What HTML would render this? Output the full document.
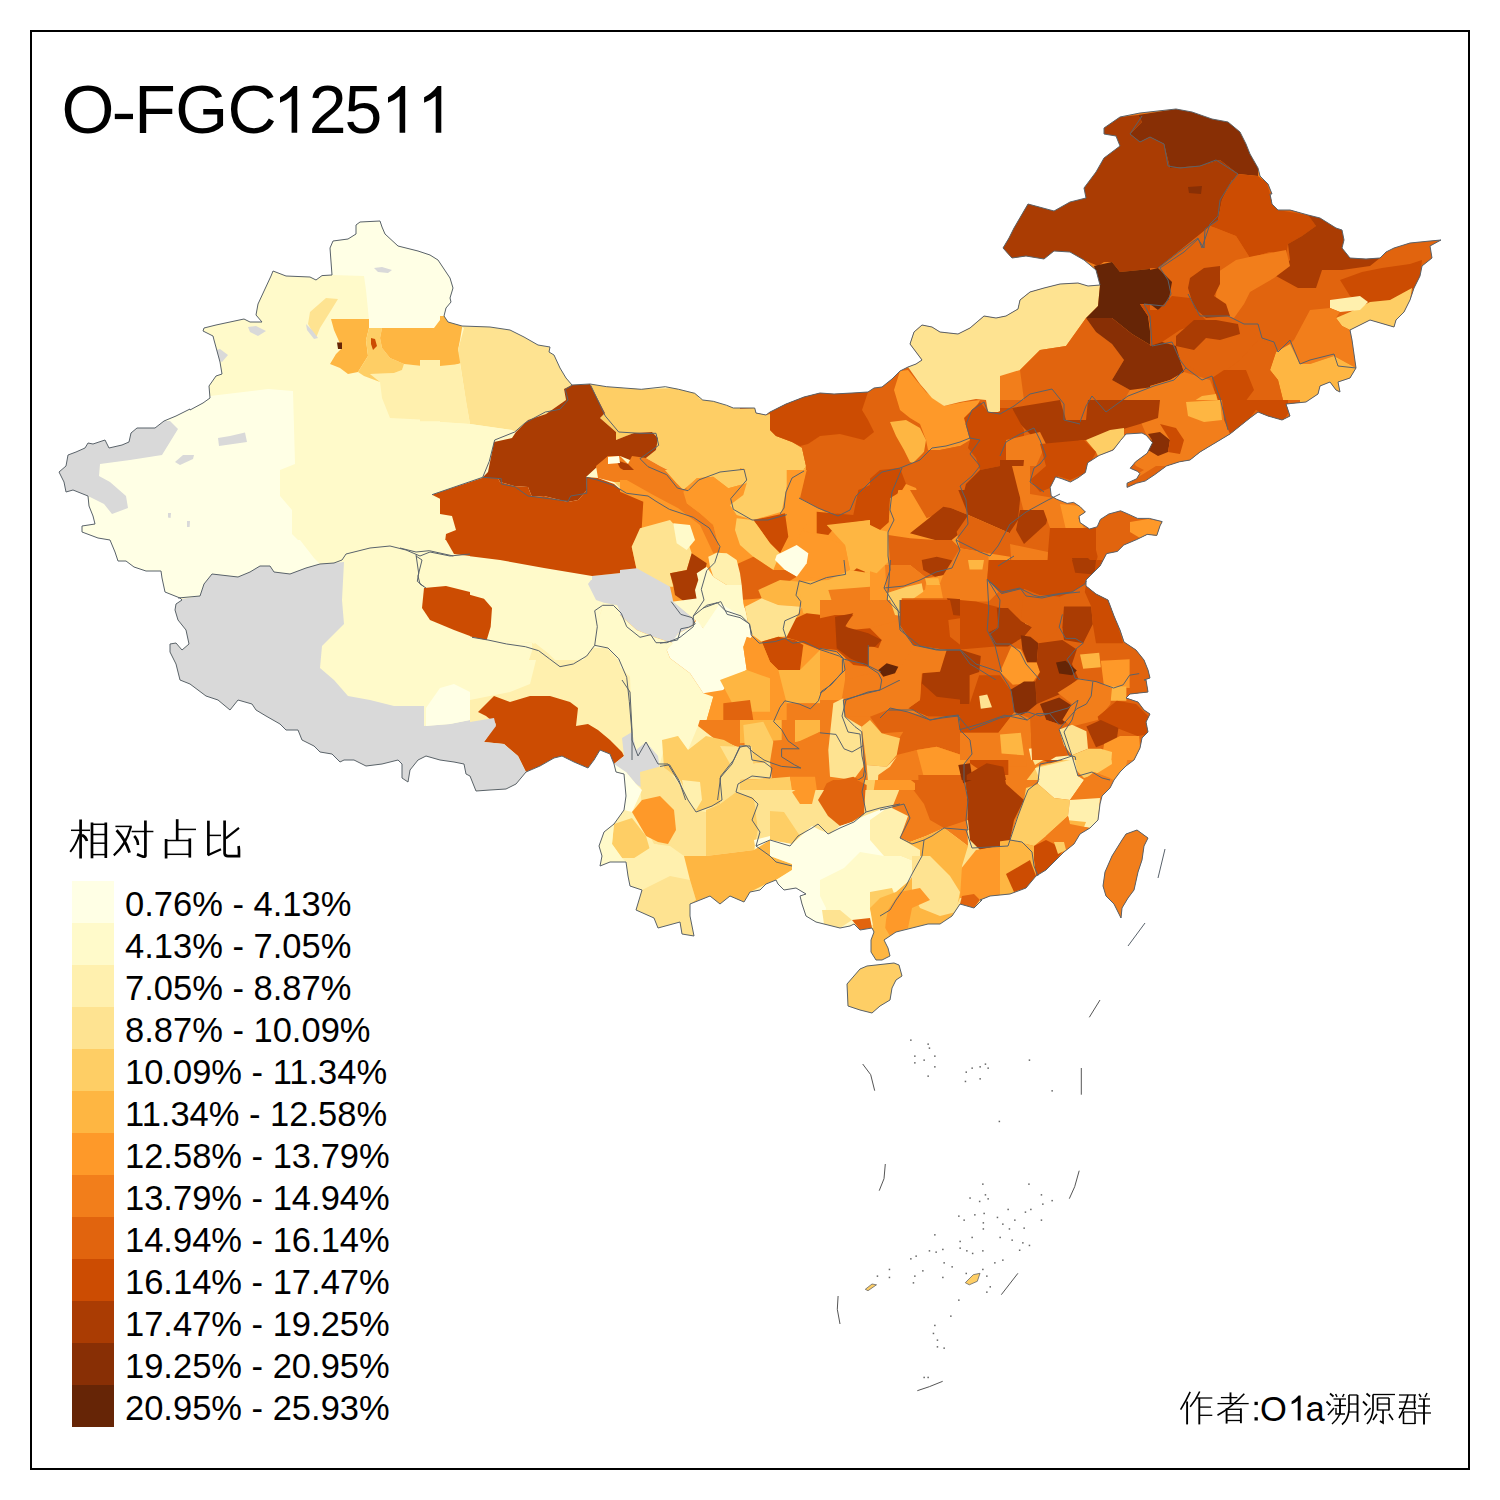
<!DOCTYPE html><html><head><meta charset="utf-8"><style>html,body{margin:0;padding:0;background:#fff;}</style></head><body>
<svg width="1500" height="1500" viewBox="0 0 1500 1500" style="display:block">
<defs><clipPath id="kT0"><rect x="190" y="200" width="300.0" height="300.0"/></clipPath>
<clipPath id="kT1"><rect x="50" y="380" width="300.0" height="300.0"/></clipPath>
<clipPath id="kT2"><rect x="420" y="360" width="400.0" height="400.0"/></clipPath>
<clipPath id="kT3"><rect x="440" y="280" width="300.0" height="300.0"/></clipPath>
<clipPath id="kT4"><rect x="740" y="200" width="300.0" height="300.0"/></clipPath>
<clipPath id="kT5"><rect x="1000" y="100" width="300.0" height="300.0"/></clipPath>
<clipPath id="kT6"><rect x="1150" y="180" width="300.0" height="300.0"/></clipPath>
<clipPath id="kT7"><rect x="1000" y="400" width="300.0" height="300.0"/></clipPath>
<clipPath id="kT8"><rect x="950" y="680" width="300.0" height="300.0"/></clipPath>
<clipPath id="kT9"><rect x="700" y="780" width="300.0" height="300.0"/></clipPath>
<clipPath id="kT10"><rect x="470" y="660" width="300.0" height="300.0"/></clipPath>
<clipPath id="kT11"><rect x="170" y="540" width="300.0" height="300.0"/></clipPath>
<clipPath id="kT12"><rect x="760" y="490" width="250.0" height="250.0"/></clipPath>
<clipPath id="kT13"><rect x="740" y="700" width="250.0" height="90.0"/></clipPath>
<clipPath id="kT14"><rect x="620" y="470" width="250.0" height="250.0"/></clipPath>
<clipPath id="kT15"><rect x="820" y="600" width="250.0" height="180.0"/></clipPath>
<clipPath id="lT15"><rect x="820" y="600" width="140.0" height="180.0"/></clipPath>
<clipPath id="kT16"><rect x="960" y="560" width="240.0" height="200.0"/></clipPath>
<clipPath id="kL1"><rect x="400" y="360" width="400.0" height="400.0"/></clipPath>
<clipPath id="kL2"><rect x="780" y="380" width="300.0" height="300.0"/></clipPath>
<clipPath id="kL3"><rect x="1080" y="220" width="300.0" height="300.0"/></clipPath>
<clipPath id="kL4"><rect x="600" y="680" width="300.0" height="300.0"/></clipPath>
<clipPath id="kL5"><rect x="880" y="700" width="300.0" height="300.0"/></clipPath>
<clipPath id="kL6"><rect x="660" y="560" width="240.0" height="240.0"/></clipPath>
<clipPath id="kL7"><rect x="1000" y="100" width="300.0" height="300.0"/></clipPath><clipPath id="china"><path d="M190.0,410.0 L203.0,403.0 L210.0,398.0 L209.0,386.0 L216.0,376.0 L222.0,374.0 L220.0,362.0 L214.0,340.0 L213.0,336.0 L203.0,331.0 L204.0,328.0 L216.0,325.0 L244.0,319.0 L250.0,322.0 L262.0,322.0 L256.0,315.0 L258.0,304.0 L271.0,276.0 L273.0,271.0 L286.0,276.0 L310.0,277.0 L316.0,280.0 L322.0,275.6 L332.0,275.0 L330.0,248.0 L333.0,241.0 L348.0,239.0 L356.0,234.0 L356.0,225.0 L360.0,222.0 L380.0,221.0 L382.0,227.0 L385.0,234.0 L398.0,246.0 L418.0,251.0 L430.0,255.0 L438.0,260.0 L450.0,278.0 L453.0,288.0 L450.0,298.0 L451.0,302.0 L446.0,308.0 L444.0,316.0 L448.0,322.0 L462.0,326.0 L490.0,327.0 L510.0,330.0 L524.0,337.0 L538.0,345.0 L550.0,347.0 L549.0,352.0 L554.0,355.0 L560.0,368.0 L566.0,378.0 L572.0,385.0 L590.0,384.0 L606.7,386.7 L641.3,389.3 L665.3,386.7 L678.7,389.3 L694.7,393.3 L702.7,400.0 L713.3,401.3 L726.7,405.3 L733.3,408.0 L754.7,408.0 L756.0,413.0 L766.0,415.0 L770.0,412.0 L786.0,404.0 L804.0,397.0 L820.0,393.0 L834.0,394.0 L852.0,393.0 L868.0,392.0 L874.0,388.0 L882.0,387.0 L892.0,379.0 L900.0,371.0 L908.0,367.0 L916.0,364.0 L922.0,360.0 L916.0,352.0 L910.0,344.0 L914.0,332.0 L922.0,325.0 L932.0,327.0 L940.0,332.0 L958.0,334.0 L970.0,328.0 L984.0,316.0 L996.0,318.0 L1006.0,316.0 L1018.0,309.0 L1020.0,300.0 L1030.0,292.0 L1044.0,288.0 L1060.0,284.0 L1078.0,283.0 L1088.0,286.0 L1100.0,285.0 L1096.0,270.0 L1084.0,260.0 L1070.0,252.0 L1054.0,251.0 L1044.0,259.0 L1026.0,256.0 L1012.0,258.0 L1003.0,248.0 L1009.0,238.0 L1014.0,228.0 L1028.0,204.0 L1054.0,211.0 L1070.0,202.0 L1086.0,198.0 L1084.0,188.0 L1096.0,172.0 L1104.0,158.0 L1120.0,146.0 L1116.0,136.0 L1104.0,134.0 L1104.0,128.0 L1120.0,117.0 L1140.0,113.0 L1176.0,109.0 L1192.0,112.0 L1212.0,119.0 L1228.0,122.0 L1240.0,132.0 L1246.0,144.0 L1250.0,154.0 L1258.0,168.0 L1260.0,176.0 L1268.0,184.0 L1272.0,194.0 L1270.0,194.0 L1272.0,204.0 L1278.0,210.0 L1290.0,210.0 L1308.0,215.0 L1320.0,218.0 L1336.0,228.0 L1342.0,230.0 L1344.0,240.0 L1342.0,248.0 L1350.0,258.0 L1366.0,259.0 L1380.0,258.0 L1386.0,252.0 L1394.0,248.0 L1410.0,243.0 L1430.0,241.0 L1441.0,240.0 L1430.0,246.0 L1432.0,258.0 L1422.0,266.0 L1420.0,276.0 L1414.0,288.0 L1410.0,300.0 L1404.0,312.0 L1396.0,320.0 L1394.0,327.0 L1370.0,320.0 L1358.0,326.0 L1350.0,330.0 L1352.0,340.0 L1354.0,354.0 L1356.0,368.0 L1350.0,378.0 L1338.0,382.0 L1340.0,392.0 L1336.0,390.0 L1330.0,382.0 L1320.0,386.0 L1318.0,394.0 L1306.0,402.0 L1286.0,404.0 L1290.0,416.0 L1282.0,420.0 L1268.0,416.0 L1258.0,412.0 L1250.0,418.0 L1230.0,434.0 L1220.0,440.0 L1200.0,452.0 L1190.0,460.0 L1179.4,461.8 L1166.4,466.0 L1154.8,474.6 L1145.2,481.0 L1136.6,483.2 L1127.0,487.4 L1127.0,483.2 L1136.6,478.8 L1139.8,473.6 L1137.6,471.4 L1130.2,468.2 L1135.6,461.8 L1147.2,453.2 L1152.6,442.6 L1146.2,435.2 L1142.0,433.0 L1126.0,434.0 L1120.6,440.4 L1113.2,450.0 L1099.2,455.4 L1087.6,462.8 L1085.4,472.4 L1078.0,477.8 L1070.4,482.0 L1062.0,478.8 L1055.6,476.8 L1050.2,487.4 L1051.2,496.0 L1056.6,499.2 L1067.2,503.4 L1073.6,502.4 L1080.0,506.6 L1085.4,512.0 L1079.0,516.2 L1080.0,522.6 L1089.6,529.0 L1097.2,526.8 L1100.4,519.4 L1108.8,514.0 L1120.6,510.8 L1128.0,514.0 L1137.6,518.4 L1149.4,518.4 L1162.2,521.6 L1160.0,525.8 L1156.8,535.4 L1147.2,534.4 L1136.6,539.6 L1123.8,545.0 L1117.4,551.4 L1106.6,553.6 L1100.0,566.0 L1092.0,574.0 L1086.0,580.0 L1086.0,586.0 L1096.0,594.0 L1108.0,600.0 L1114.0,616.0 L1120.0,630.0 L1124.0,642.0 L1136.0,650.0 L1144.0,660.0 L1148.0,670.0 L1150.0,678.0 L1144.0,680.0 L1146.0,680.0 L1148.0,692.0 L1130.0,694.0 L1126.0,698.0 L1138.0,702.0 L1144.0,710.0 L1150.0,714.0 L1146.0,722.0 L1148.0,732.0 L1142.0,738.0 L1140.0,748.0 L1134.0,760.0 L1126.0,766.0 L1120.0,772.0 L1114.0,780.0 L1110.0,788.0 L1102.0,796.0 L1100.0,804.0 L1098.0,820.0 L1090.0,828.0 L1080.0,834.0 L1074.0,844.0 L1064.0,852.0 L1056.0,860.0 L1046.0,870.0 L1036.0,876.0 L1026.0,888.0 L1010.0,894.0 L990.0,896.0 L980.0,900.0 L982.0,900.0 L974.0,908.0 L960.0,904.0 L952.0,916.0 L940.0,924.0 L928.0,924.0 L920.0,926.0 L912.0,928.0 L896.0,932.0 L890.0,936.0 L884.0,940.0 L888.0,948.0 L890.0,956.0 L882.0,960.0 L876.0,960.0 L871.0,952.0 L871.0,940.0 L874.0,932.0 L872.0,928.0 L860.0,930.0 L854.0,924.0 L850.0,926.0 L840.0,928.0 L824.0,924.0 L816.0,922.0 L806.0,916.0 L802.0,904.0 L800.0,896.0 L806.0,894.0 L796.0,888.0 L784.0,890.0 L778.0,884.0 L776.0,880.0 L766.0,884.0 L760.0,890.0 L750.0,892.0 L744.0,902.0 L730.0,896.0 L720.0,904.0 L710.0,896.0 L690.0,904.0 L690.0,916.0 L694.0,936.0 L682.0,934.0 L680.0,922.0 L658.0,928.0 L654.0,918.0 L636.0,910.0 L642.0,890.0 L630.0,886.0 L628.0,876.0 L626.0,862.0 L610.0,862.0 L600.0,866.0 L602.0,856.0 L599.0,846.0 L604.0,832.0 L614.0,824.0 L624.0,810.0 L626.0,796.0 L624.0,774.0 L616.0,772.0 L614.0,764.0 L610.0,754.0 L600.0,750.0 L594.0,760.0 L588.0,768.0 L574.0,762.0 L562.0,756.0 L554.0,758.0 L540.0,766.0 L526.0,772.0 L516.0,784.0 L506.0,789.0 L490.0,790.0 L476.0,791.0 L470.0,776.0 L466.0,774.0 L464.0,764.0 L454.0,762.0 L440.0,760.0 L426.0,756.0 L418.0,760.0 L410.0,770.0 L408.0,782.0 L402.0,778.0 L402.0,764.0 L398.0,760.0 L382.0,764.0 L366.0,766.0 L354.0,760.0 L344.0,760.0 L340.0,762.0 L332.0,754.0 L320.0,752.0 L314.0,746.0 L302.0,740.0 L298.0,730.0 L286.0,730.0 L280.0,724.0 L266.0,716.0 L256.0,710.0 L252.0,704.0 L238.0,700.0 L230.0,710.0 L218.0,700.0 L206.0,696.0 L190.0,684.0 L180.0,680.0 L176.0,664.0 L170.0,652.0 L170.0,644.0 L176.0,643.0 L182.0,650.0 L189.0,644.0 L186.0,630.0 L178.0,620.0 L175.0,610.0 L176.0,604.0 L182.0,600.0 L180.0,598.0 L165.0,592.0 L162.0,578.0 L161.0,571.0 L146.0,571.0 L134.0,567.0 L126.0,561.0 L118.0,561.0 L115.0,552.0 L110.0,540.0 L98.0,538.0 L82.0,532.0 L82.0,526.0 L95.0,524.0 L93.0,516.0 L89.0,506.0 L88.0,496.0 L73.0,490.0 L66.0,492.0 L64.0,482.0 L59.0,472.0 L66.0,466.0 L68.0,455.0 L76.0,452.0 L85.0,448.0 L88.0,443.0 L93.0,444.0 L105.0,440.0 L109.0,448.0 L122.0,445.0 L129.0,442.0 L131.0,433.0 L137.0,428.0 L155.0,428.0 L164.0,421.0 L176.0,416.0 L190.0,409.0Z M1137.0,830.0 L1148.0,838.0 L1144.0,846.0 L1142.0,860.0 L1138.0,872.0 L1134.0,890.0 L1128.0,898.0 L1122.0,908.0 L1121.0,918.0 L1118.0,912.0 L1114.0,904.0 L1106.0,896.0 L1103.0,886.0 L1105.0,872.0 L1112.0,856.0 L1122.0,840.0 L1126.0,834.0Z M867.0,966.0 L894.0,963.0 L899.0,965.0 L902.0,976.0 L896.0,980.0 L892.0,988.0 L890.0,1000.0 L880.0,1006.0 L872.0,1013.0 L860.0,1010.0 L848.0,1006.0 L847.0,984.0 L860.0,969.0Z"/></clipPath></defs>
<g clip-path="url(#china)"><path fill="#fffaca" d="M190.0,410.0 L203.0,403.0 L210.0,398.0 L209.0,386.0 L216.0,376.0 L222.0,374.0 L220.0,362.0 L214.0,340.0 L213.0,336.0 L203.0,331.0 L204.0,328.0 L216.0,325.0 L244.0,319.0 L250.0,322.0 L262.0,322.0 L256.0,315.0 L258.0,304.0 L271.0,276.0 L273.0,271.0 L286.0,276.0 L310.0,277.0 L316.0,280.0 L322.0,275.6 L332.0,275.0 L330.0,248.0 L333.0,241.0 L348.0,239.0 L356.0,234.0 L356.0,225.0 L360.0,222.0 L380.0,221.0 L382.0,227.0 L385.0,234.0 L398.0,246.0 L418.0,251.0 L430.0,255.0 L438.0,260.0 L450.0,278.0 L453.0,288.0 L450.0,298.0 L451.0,302.0 L446.0,308.0 L444.0,316.0 L448.0,322.0 L462.0,326.0 L490.0,327.0 L510.0,330.0 L524.0,337.0 L538.0,345.0 L550.0,347.0 L549.0,352.0 L554.0,355.0 L560.0,368.0 L566.0,378.0 L572.0,385.0 L590.0,384.0 L606.7,386.7 L641.3,389.3 L665.3,386.7 L678.7,389.3 L694.7,393.3 L702.7,400.0 L713.3,401.3 L726.7,405.3 L733.3,408.0 L754.7,408.0 L756.0,413.0 L766.0,415.0 L770.0,412.0 L786.0,404.0 L804.0,397.0 L820.0,393.0 L834.0,394.0 L852.0,393.0 L868.0,392.0 L874.0,388.0 L882.0,387.0 L892.0,379.0 L900.0,371.0 L908.0,367.0 L916.0,364.0 L922.0,360.0 L916.0,352.0 L910.0,344.0 L914.0,332.0 L922.0,325.0 L932.0,327.0 L940.0,332.0 L958.0,334.0 L970.0,328.0 L984.0,316.0 L996.0,318.0 L1006.0,316.0 L1018.0,309.0 L1020.0,300.0 L1030.0,292.0 L1044.0,288.0 L1060.0,284.0 L1078.0,283.0 L1088.0,286.0 L1100.0,285.0 L1096.0,270.0 L1084.0,260.0 L1070.0,252.0 L1054.0,251.0 L1044.0,259.0 L1026.0,256.0 L1012.0,258.0 L1003.0,248.0 L1009.0,238.0 L1014.0,228.0 L1028.0,204.0 L1054.0,211.0 L1070.0,202.0 L1086.0,198.0 L1084.0,188.0 L1096.0,172.0 L1104.0,158.0 L1120.0,146.0 L1116.0,136.0 L1104.0,134.0 L1104.0,128.0 L1120.0,117.0 L1140.0,113.0 L1176.0,109.0 L1192.0,112.0 L1212.0,119.0 L1228.0,122.0 L1240.0,132.0 L1246.0,144.0 L1250.0,154.0 L1258.0,168.0 L1260.0,176.0 L1268.0,184.0 L1272.0,194.0 L1270.0,194.0 L1272.0,204.0 L1278.0,210.0 L1290.0,210.0 L1308.0,215.0 L1320.0,218.0 L1336.0,228.0 L1342.0,230.0 L1344.0,240.0 L1342.0,248.0 L1350.0,258.0 L1366.0,259.0 L1380.0,258.0 L1386.0,252.0 L1394.0,248.0 L1410.0,243.0 L1430.0,241.0 L1441.0,240.0 L1430.0,246.0 L1432.0,258.0 L1422.0,266.0 L1420.0,276.0 L1414.0,288.0 L1410.0,300.0 L1404.0,312.0 L1396.0,320.0 L1394.0,327.0 L1370.0,320.0 L1358.0,326.0 L1350.0,330.0 L1352.0,340.0 L1354.0,354.0 L1356.0,368.0 L1350.0,378.0 L1338.0,382.0 L1340.0,392.0 L1336.0,390.0 L1330.0,382.0 L1320.0,386.0 L1318.0,394.0 L1306.0,402.0 L1286.0,404.0 L1290.0,416.0 L1282.0,420.0 L1268.0,416.0 L1258.0,412.0 L1250.0,418.0 L1230.0,434.0 L1220.0,440.0 L1200.0,452.0 L1190.0,460.0 L1179.4,461.8 L1166.4,466.0 L1154.8,474.6 L1145.2,481.0 L1136.6,483.2 L1127.0,487.4 L1127.0,483.2 L1136.6,478.8 L1139.8,473.6 L1137.6,471.4 L1130.2,468.2 L1135.6,461.8 L1147.2,453.2 L1152.6,442.6 L1146.2,435.2 L1142.0,433.0 L1126.0,434.0 L1120.6,440.4 L1113.2,450.0 L1099.2,455.4 L1087.6,462.8 L1085.4,472.4 L1078.0,477.8 L1070.4,482.0 L1062.0,478.8 L1055.6,476.8 L1050.2,487.4 L1051.2,496.0 L1056.6,499.2 L1067.2,503.4 L1073.6,502.4 L1080.0,506.6 L1085.4,512.0 L1079.0,516.2 L1080.0,522.6 L1089.6,529.0 L1097.2,526.8 L1100.4,519.4 L1108.8,514.0 L1120.6,510.8 L1128.0,514.0 L1137.6,518.4 L1149.4,518.4 L1162.2,521.6 L1160.0,525.8 L1156.8,535.4 L1147.2,534.4 L1136.6,539.6 L1123.8,545.0 L1117.4,551.4 L1106.6,553.6 L1100.0,566.0 L1092.0,574.0 L1086.0,580.0 L1086.0,586.0 L1096.0,594.0 L1108.0,600.0 L1114.0,616.0 L1120.0,630.0 L1124.0,642.0 L1136.0,650.0 L1144.0,660.0 L1148.0,670.0 L1150.0,678.0 L1144.0,680.0 L1146.0,680.0 L1148.0,692.0 L1130.0,694.0 L1126.0,698.0 L1138.0,702.0 L1144.0,710.0 L1150.0,714.0 L1146.0,722.0 L1148.0,732.0 L1142.0,738.0 L1140.0,748.0 L1134.0,760.0 L1126.0,766.0 L1120.0,772.0 L1114.0,780.0 L1110.0,788.0 L1102.0,796.0 L1100.0,804.0 L1098.0,820.0 L1090.0,828.0 L1080.0,834.0 L1074.0,844.0 L1064.0,852.0 L1056.0,860.0 L1046.0,870.0 L1036.0,876.0 L1026.0,888.0 L1010.0,894.0 L990.0,896.0 L980.0,900.0 L982.0,900.0 L974.0,908.0 L960.0,904.0 L952.0,916.0 L940.0,924.0 L928.0,924.0 L920.0,926.0 L912.0,928.0 L896.0,932.0 L890.0,936.0 L884.0,940.0 L888.0,948.0 L890.0,956.0 L882.0,960.0 L876.0,960.0 L871.0,952.0 L871.0,940.0 L874.0,932.0 L872.0,928.0 L860.0,930.0 L854.0,924.0 L850.0,926.0 L840.0,928.0 L824.0,924.0 L816.0,922.0 L806.0,916.0 L802.0,904.0 L800.0,896.0 L806.0,894.0 L796.0,888.0 L784.0,890.0 L778.0,884.0 L776.0,880.0 L766.0,884.0 L760.0,890.0 L750.0,892.0 L744.0,902.0 L730.0,896.0 L720.0,904.0 L710.0,896.0 L690.0,904.0 L690.0,916.0 L694.0,936.0 L682.0,934.0 L680.0,922.0 L658.0,928.0 L654.0,918.0 L636.0,910.0 L642.0,890.0 L630.0,886.0 L628.0,876.0 L626.0,862.0 L610.0,862.0 L600.0,866.0 L602.0,856.0 L599.0,846.0 L604.0,832.0 L614.0,824.0 L624.0,810.0 L626.0,796.0 L624.0,774.0 L616.0,772.0 L614.0,764.0 L610.0,754.0 L600.0,750.0 L594.0,760.0 L588.0,768.0 L574.0,762.0 L562.0,756.0 L554.0,758.0 L540.0,766.0 L526.0,772.0 L516.0,784.0 L506.0,789.0 L490.0,790.0 L476.0,791.0 L470.0,776.0 L466.0,774.0 L464.0,764.0 L454.0,762.0 L440.0,760.0 L426.0,756.0 L418.0,760.0 L410.0,770.0 L408.0,782.0 L402.0,778.0 L402.0,764.0 L398.0,760.0 L382.0,764.0 L366.0,766.0 L354.0,760.0 L344.0,760.0 L340.0,762.0 L332.0,754.0 L320.0,752.0 L314.0,746.0 L302.0,740.0 L298.0,730.0 L286.0,730.0 L280.0,724.0 L266.0,716.0 L256.0,710.0 L252.0,704.0 L238.0,700.0 L230.0,710.0 L218.0,700.0 L206.0,696.0 L190.0,684.0 L180.0,680.0 L176.0,664.0 L170.0,652.0 L170.0,644.0 L176.0,643.0 L182.0,650.0 L189.0,644.0 L186.0,630.0 L178.0,620.0 L175.0,610.0 L176.0,604.0 L182.0,600.0 L180.0,598.0 L165.0,592.0 L162.0,578.0 L161.0,571.0 L146.0,571.0 L134.0,567.0 L126.0,561.0 L118.0,561.0 L115.0,552.0 L110.0,540.0 L98.0,538.0 L82.0,532.0 L82.0,526.0 L95.0,524.0 L93.0,516.0 L89.0,506.0 L88.0,496.0 L73.0,490.0 L66.0,492.0 L64.0,482.0 L59.0,472.0 L66.0,466.0 L68.0,455.0 L76.0,452.0 L85.0,448.0 L88.0,443.0 L93.0,444.0 L105.0,440.0 L109.0,448.0 L122.0,445.0 L129.0,442.0 L131.0,433.0 L137.0,428.0 L155.0,428.0 L164.0,421.0 L176.0,416.0 L190.0,409.0Z"/><g clip-path="url(#kT0)"><polygon fill="#fffaca" points="190.0,200.0 490.0,200.0 490.0,500.0 190.0,500.0"/><polygon fill="#ffffe5" points="332.0,275.0 330.0,248.0 333.0,241.0 348.0,239.0 356.0,234.0 356.0,225.0 360.0,222.0 380.0,221.0 382.0,227.0 385.0,234.0 398.0,246.0 418.0,251.0 430.0,255.0 438.0,260.0 450.0,278.0 453.0,288.0 450.0,298.0 452.0,304.0 445.0,312.0 446.0,320.0 434.0,328.0 369.0,328.0 369.0,320.0 366.0,290.0 364.0,276.0"/><polygon fill="#ffffe5" points="190.0,410.0 210.0,396.0 250.0,390.0 293.0,392.0 295.0,440.0 281.0,470.0 280.0,500.0 190.0,500.0"/><polygon fill="#fff0ae" points="370.0,374.0 394.0,373.0 402.0,370.0 404.0,364.0 422.0,366.0 456.0,364.0 466.0,400.0 470.0,422.0 390.0,418.0 382.0,398.0 380.0,382.0"/><polygon fill="#fee391" points="456.0,328.0 490.0,326.0 490.0,426.0 470.0,422.0 466.0,400.0 456.0,366.0 463.0,360.0 458.0,340.0"/><polygon fill="#feb642" points="331.0,319.0 369.0,319.0 369.0,328.0 366.0,340.0 368.0,356.0 358.0,372.0 348.0,374.0 340.0,368.0 330.0,364.0 336.0,354.0 342.0,348.0 334.0,330.0"/><polygon fill="#fece65" points="369.0,328.0 382.0,328.0 380.0,338.0 382.0,348.0 390.0,358.0 404.0,364.0 402.0,370.0 394.0,373.0 370.0,374.0 380.0,382.0 364.0,376.0 358.0,372.0 368.0,356.0 366.0,340.0"/><polygon fill="#feb642" points="382.0,328.0 434.0,328.0 443.0,316.0 448.0,322.0 463.0,327.0 458.0,340.0 463.0,360.0 456.0,364.0 422.0,366.0 404.0,364.0 390.0,358.0 382.0,348.0 380.0,338.0"/><polygon fill="#fee391" points="326.0,298.0 338.0,299.0 330.0,312.0 320.0,328.0 316.0,338.0 308.0,324.0 310.0,312.0"/><polygon fill="#d9d9d9" points="306.0,324.0 312.0,330.0 318.0,338.0 314.0,339.0 307.0,330.0"/><polygon fill="#662506" points="337.0,342.4 342.0,342.4 342.0,349.0 338.0,349.0"/><polygon fill="#cc4c02" points="371.0,338.0 375.0,339.0 377.0,346.0 373.0,350.0 371.0,344.0"/><polygon fill="#d9d9d9" points="374.0,268.0 382.0,267.0 392.0,270.0 388.0,273.0 378.0,272.0"/><polygon fill="#d9d9d9" points="217.0,438.0 230.0,434.0 246.0,432.0 248.0,443.0 218.0,446.0"/><polygon fill="#d9d9d9" points="326.0,408.0 333.0,407.0 334.0,412.0 328.0,412.0"/><polygon fill="#d9d9d9" points="248.0,327.0 256.0,326.0 266.0,331.0 258.0,336.0 250.0,332.0"/><polygon fill="#d9d9d9" points="216.0,350.0 220.0,349.0 228.0,355.0 222.0,362.0 218.0,360.0"/><polygon fill="#fffaca" points="490.0,426.0 482.0,464.0 432.0,496.0 430.0,500.0 490.0,500.0"/></g>
<g clip-path="url(#kT1)"><polygon fill="#ffffe5" points="50.0,380.0 350.0,380.0 350.0,680.0 50.0,680.0"/><polygon fill="#fffaca" points="50.0,380.0 350.0,380.0 350.0,552.0 314.0,556.0 292.0,534.0 292.0,510.0 280.0,496.0 280.0,470.0 295.0,464.0 293.0,391.0 268.0,389.0 210.0,396.0 50.0,396.0"/><polygon fill="#d9d9d9" points="170.0,421.0 178.0,429.0 162.0,455.0 130.0,460.0 100.0,464.0 99.0,476.0 110.0,482.0 126.0,496.0 128.0,508.0 112.0,514.0 104.0,504.0 88.0,496.0 73.0,490.0 66.0,492.0 64.0,482.0 59.0,472.0 66.0,466.0 68.0,455.0 76.0,452.0 85.0,448.0 88.0,443.0 93.0,444.0 105.0,440.0 109.0,448.0 122.0,445.0 129.0,442.0 131.0,433.0 137.0,428.0 155.0,428.0 164.0,421.0"/><polygon fill="#d9d9d9" points="218.0,438.0 230.0,436.0 245.0,432.4 247.0,442.0 219.0,446.0"/><polygon fill="#d9d9d9" points="175.0,462.0 183.0,455.0 194.0,455.0 193.0,459.0 180.0,465.0"/><polygon fill="#d9d9d9" points="168.0,513.0 171.0,513.0 170.6,518.0 168.0,517.6"/><polygon fill="#d9d9d9" points="187.0,521.0 190.0,521.0 189.6,527.0 187.0,527.0"/></g>
<g clip-path="url(#kT2)"><polygon fill="#fff0ae" points="420.0,360.0 820.0,360.0 820.0,760.0 420.0,760.0"/><polygon fill="#fff0ae" points="420.0,360.0 556.0,360.0 564.0,376.0 573.3,385.3 565.3,388.0 569.3,397.3 564.0,404.0 545.3,410.7 526.7,418.7 510.7,440.0 420.0,440.0"/><polygon fill="#fee391" points="457.3,360.0 556.0,360.0 564.0,376.0 573.3,385.3 565.3,388.0 569.3,397.3 564.0,404.0 545.3,410.7 526.7,418.7 510.7,426.7 494.7,424.0 473.3,421.3 468.0,402.7 460.0,386.7"/><polygon fill="#fffaca" points="420.0,421.3 473.3,421.3 494.7,424.0 510.7,429.3 496.0,440.0 481.3,480.0 444.0,490.7 432.0,494.7 440.0,498.7 441.3,514.7 449.3,520.0 454.7,533.3 445.3,541.3 452.0,552.0 454.7,557.3 420.0,557.3"/><polygon fill="#fece65" points="590.7,384.5 694.7,393.3 702.7,400.0 733.3,408.0 754.7,408.0 756.0,413.3 772.0,409.3 769.3,421.3 777.3,434.7 793.3,442.7 804.0,461.3 801.3,472.0 788.0,474.7 782.7,488.0 777.3,509.3 756.0,520.0 745.3,520.0 732.0,509.3 733.3,496.0 748.0,477.3 744.0,469.3 713.3,474.7 700.0,477.3 686.7,490.7 673.3,480.0 660.0,466.7 649.3,457.3 657.3,448.0 657.3,434.7 644.0,432.0 633.3,437.3 617.3,440.0 601.3,417.3 604.0,413.3"/><polygon fill="#aa3c03" points="770.7,413.3 788.0,400.0 820.0,392.0 820.0,504.0 804.0,498.7 801.3,472.0 804.0,461.3 793.3,442.7 777.3,434.7 769.3,421.3"/><polygon fill="#fffaca" points="420.0,557.3 454.7,557.3 486.7,560.0 548.0,566.7 593.3,572.0 612.0,574.7 633.3,568.0 636.0,584.0 660.0,586.7 673.3,605.3 686.7,616.0 694.7,624.0 692.0,640.0 676.0,645.3 652.0,640.0 636.0,637.3 625.3,624.0 617.3,605.3 604.0,602.7 596.0,626.7 593.3,648.0 580.0,664.0 564.0,669.3 548.0,653.3 532.0,642.7 486.7,640.0 420.0,640.0"/><polygon fill="#fffaca" points="420.0,640.0 486.7,640.0 532.0,642.7 534.7,698.7 513.3,698.7 494.7,696.0 477.3,712.0 420.0,706.7"/><polygon fill="#fff0ae" points="534.7,642.7 548.0,653.3 564.0,669.3 580.0,664.0 593.3,648.0 606.7,648.0 617.3,658.7 628.0,674.7 630.7,733.3 622.7,746.7 577.3,728.0 569.3,704.0 553.3,693.3 534.7,698.7 526.7,666.7"/><polygon fill="#ffffe5" points="420.0,704.0 444.0,693.3 460.0,685.3 473.3,696.0 477.3,712.0 481.3,717.3 500.0,728.0 492.0,733.3 460.0,728.0 425.3,725.3"/><polygon fill="#d9d9d9" points="420.0,706.7 425.3,725.3 460.0,728.0 492.0,733.3 497.3,760.0 420.0,760.0"/><polygon fill="#fffaca" points="596.0,626.7 604.0,602.7 617.3,605.3 625.3,624.0 636.0,637.3 652.0,640.0 676.0,645.3 692.0,640.0 694.7,624.0 686.7,616.0 673.3,605.3 676.0,597.3 694.7,605.3 702.7,594.7 718.7,602.7 726.7,616.0 740.0,626.7 748.0,640.0 740.0,653.3 748.0,693.3 713.3,688.0 702.7,706.7 697.3,733.3 670.7,760.0 630.7,760.0 630.7,733.3 628.0,674.7 617.3,658.7 606.7,648.0 593.3,648.0"/><polygon fill="#ffffe5" points="665.3,637.3 694.7,624.0 692.0,640.0 718.7,602.7 726.7,616.0 740.0,626.7 750.7,642.7 740.0,653.3 748.0,680.0 713.3,688.0 702.7,696.0 676.0,674.7 665.3,653.3"/><polygon fill="#d9d9d9" points="588.0,584.0 596.0,573.3 633.3,568.0 636.0,584.0 660.0,586.7 670.7,592.0 673.3,605.3 681.3,616.0 694.7,624.0 692.0,640.0 676.0,645.3 660.0,642.7 652.0,640.0 636.0,637.3 625.3,624.0 617.3,605.3 604.0,602.7 596.0,600.0"/><polygon fill="#aa3c03" points="565.3,388.0 590.7,384.5 604.0,413.3 601.3,417.3 617.3,440.0 625.3,436.0 633.3,437.3 644.0,432.0 657.3,434.7 657.3,448.0 649.3,457.3 633.3,460.0 636.0,472.0 630.7,473.3 616.0,464.0 606.7,460.0 596.0,466.7 594.7,474.7 585.3,477.3 588.0,485.3 580.0,498.7 569.3,502.7 553.3,498.7 545.3,498.7 529.3,496.0 526.7,488.0 513.3,485.3 498.7,485.3 498.7,477.3 481.3,480.0 496.0,440.0 510.7,440.0 526.7,418.7 545.3,410.7 564.0,404.0 569.3,397.3"/><polygon fill="#cc4c02" points="432.0,494.7 444.0,490.7 481.3,480.0 498.7,477.3 498.7,485.3 513.3,485.3 526.7,488.0 529.3,496.0 545.3,498.7 553.3,498.7 569.3,502.7 580.0,498.7 588.0,485.3 585.3,477.3 596.0,478.7 606.7,481.3 612.0,485.3 622.7,496.0 633.3,498.7 644.0,504.0 636.0,520.0 638.7,530.7 630.7,544.0 636.0,546.7 633.3,568.0 612.0,574.7 593.3,572.0 548.0,566.7 486.7,560.0 454.7,557.3 452.0,552.0 445.3,541.3 454.7,533.3 449.3,520.0 441.3,514.7 440.0,498.7"/><polygon fill="#cc4c02" points="422.7,586.7 441.3,585.3 460.0,592.0 484.0,598.7 492.0,608.0 490.7,626.7 486.7,640.0 473.3,637.3 446.7,629.3 433.3,618.7 422.7,608.0"/><polygon fill="#cc4c02" points="477.3,712.0 494.7,696.0 513.3,698.7 532.0,696.0 553.3,693.3 569.3,704.0 577.3,717.3 577.3,728.0 588.0,722.7 596.0,725.3 606.7,736.0 622.7,746.7 622.7,760.0 497.3,760.0 492.0,749.3 500.0,728.0 481.3,717.3"/><polygon fill="#f27e1b" points="596.0,466.7 606.7,460.0 616.0,464.0 630.7,473.3 636.0,472.0 633.3,460.0 649.3,457.3 660.0,466.7 673.3,480.0 686.7,490.7 700.0,477.3 713.3,474.7 726.7,472.0 744.0,469.3 748.0,477.3 740.0,488.0 733.3,496.0 732.0,509.3 745.3,520.0 753.3,552.0 734.7,562.7 713.3,570.7 708.0,562.7 710.7,546.7 697.3,525.3 676.0,517.3 657.3,506.7 644.0,504.0 633.3,498.7 622.7,496.0 612.0,485.3 606.7,481.3 596.0,478.7"/><polygon fill="#fe9929" points="686.7,490.7 700.0,477.3 744.0,469.3 748.0,477.3 733.3,496.0 732.0,509.3 745.3,520.0 753.3,552.0 734.7,562.7 713.3,570.7 708.0,562.7 710.7,546.7 697.3,525.3 708.0,520.0 713.3,504.0"/><polygon fill="#fee391" points="644.0,504.0 657.3,506.7 676.0,517.3 697.3,525.3 710.7,546.7 708.0,562.7 702.7,552.0 694.7,557.3 681.3,565.3 670.7,573.3 673.3,589.3 660.0,586.7 636.0,584.0 633.3,568.0 636.0,546.7 630.7,544.0 638.7,530.7 636.0,520.0"/><polygon fill="#fffaca" points="673.3,522.7 686.7,525.3 694.7,533.3 692.0,546.7 686.7,552.0 676.0,544.0"/><polygon fill="#aa3c03" points="668.0,573.3 686.7,568.0 692.0,554.7 700.0,562.7 708.0,573.3 702.7,594.7 694.7,605.3 676.0,597.3 673.3,584.0"/><polygon fill="#ffffe5" points="609.3,458.7 617.3,456.0 618.7,462.7 610.7,464.0"/></g>
<g clip-path="url(#kT3)"><polygon fill="#fffaca" points="440.0,280.0 740.0,280.0 740.0,580.0 440.0,580.0"/><polygon fill="#ffffe5" points="440.0,280.0 454.0,280.0 454.0,288.0 452.0,298.0 453.0,302.0 448.0,308.0 446.0,317.0 440.0,318.0"/><polygon fill="#feb642" points="440.0,316.0 464.0,316.0 460.0,340.0 458.0,350.0 464.0,362.0 452.0,366.0 440.0,366.0"/><polygon fill="#fee391" points="444.0,316.0 448.0,322.0 462.0,326.0 490.0,327.0 510.0,330.0 524.0,337.0 538.0,345.0 550.0,347.0 549.0,352.0 554.0,355.0 560.0,368.0 566.0,378.0 572.0,385.0 564.0,390.0 566.0,400.0 546.0,414.0 528.0,420.0 516.0,432.0 512.0,430.0 470.0,424.0 466.0,402.0 460.0,362.0 458.0,350.0 464.0,328.0"/><polygon fill="#fff0ae" points="440.0,366.0 460.0,364.0 470.0,424.0 440.0,422.0"/><polygon fill="#fffaca" points="440.0,422.0 470.0,424.0 512.0,430.0 494.0,442.0 488.0,472.0 482.0,478.0 440.0,492.0"/><polygon fill="#fece65" points="590.0,384.0 620.0,388.0 644.0,389.0 676.0,388.0 694.0,391.0 700.0,399.0 712.0,400.0 724.0,405.0 740.0,408.0 740.0,470.0 710.0,476.0 696.0,478.0 694.0,488.0 688.0,492.0 680.0,484.0 672.0,472.0 660.0,466.0 646.0,458.0 656.0,450.0 658.0,438.0 652.0,432.0 634.0,433.0 616.0,440.0 616.0,432.0 600.0,418.0 605.0,413.0"/><polygon fill="#fe9929" points="696.0,478.0 710.0,476.0 740.0,470.0 740.0,560.0 720.0,550.0 710.0,530.0 700.0,514.0 686.0,508.0 700.0,508.0 700.0,500.0 688.0,492.0 694.0,488.0"/><polygon fill="#feb642" points="686.0,490.0 708.0,488.0 714.0,500.0 700.0,504.0 684.0,502.0"/><polygon fill="#fece65" points="612.0,480.0 632.0,482.0 658.0,496.0 678.0,504.0 700.0,514.0 710.0,530.0 712.0,540.0 720.0,552.0 716.0,568.0 708.0,580.0 640.0,580.0 634.0,564.0 632.0,544.0 640.0,540.0 636.0,532.0 644.0,514.0 640.0,508.0 644.0,502.0 628.0,496.0"/><polygon fill="#fffaca" points="674.0,522.0 688.0,524.0 696.0,532.0 694.0,546.0 676.0,544.0 674.0,536.0"/><polygon fill="#feb642" points="694.0,530.0 706.0,532.0 718.0,550.0 720.0,568.0 708.0,568.0 696.0,556.0"/><polygon fill="#aa3c03" points="690.0,554.0 700.0,564.0 708.0,580.0 668.0,580.0 672.0,572.0 686.0,570.0"/><polygon fill="#d9d9d9" points="592.0,576.0 630.0,572.0 640.0,568.0 640.0,580.0 592.0,580.0"/><polygon fill="#aa3c03" points="564.0,389.0 572.0,385.0 590.0,384.0 605.0,413.0 600.0,418.0 616.0,432.0 616.0,440.0 626.0,436.0 634.0,433.0 652.0,432.0 658.0,438.0 656.0,450.0 646.0,458.0 630.0,460.0 620.0,456.0 608.0,456.0 606.0,464.0 598.0,466.0 586.0,477.0 587.0,490.0 578.0,500.0 568.0,502.0 552.0,498.0 544.0,496.0 532.0,497.0 528.0,487.0 514.0,486.0 500.0,482.0 498.0,478.0 482.0,478.0 488.0,472.0 494.0,442.0 512.0,438.0 516.0,432.0 528.0,420.0 546.0,414.0 566.0,400.0"/><polygon fill="#cc4c02" points="440.0,492.0 482.0,478.0 498.0,478.0 500.0,482.0 514.0,486.0 528.0,487.0 532.0,497.0 544.0,496.0 568.0,502.0 578.0,500.0 587.0,490.0 586.0,477.0 598.0,478.0 614.0,484.0 628.0,496.0 644.0,502.0 640.0,508.0 644.0,514.0 636.0,532.0 640.0,540.0 632.0,544.0 634.0,564.0 630.0,572.0 592.0,576.0 544.0,568.0 500.0,560.0 452.0,554.0 452.0,544.0 445.0,542.0 446.0,534.0 456.0,530.0 452.0,516.0 440.0,514.0"/><polygon fill="#f27e1b" points="596.0,466.0 608.0,456.0 620.0,456.0 628.0,464.0 632.0,456.0 646.0,458.0 660.0,466.0 672.0,472.0 680.0,484.0 688.0,492.0 700.0,500.0 700.0,508.0 686.0,508.0 678.0,504.0 658.0,496.0 632.0,482.0 614.0,482.0 598.0,478.0"/><polygon fill="#aa3c03" points="616.0,460.0 628.0,464.0 636.0,472.0 632.0,475.0 620.0,468.0"/><polygon fill="#ffffe5" points="608.0,457.0 619.0,456.0 620.0,463.0 608.0,464.0"/></g>
<g clip-path="url(#kT4)"><polygon fill="#e1640e" points="740.0,200.0 1040.0,200.0 1040.0,500.0 740.0,500.0"/><polygon fill="#fece65" points="740.0,409.0 755.0,408.0 756.0,413.0 766.0,415.0 770.0,414.0 770.0,430.0 776.0,436.0 792.0,442.0 802.0,448.0 806.0,466.0 800.0,476.0 784.0,490.0 784.0,500.0 740.0,500.0"/><polygon fill="#fe9929" points="740.0,468.0 746.0,470.0 748.0,478.0 744.0,484.0 740.0,484.0"/><polygon fill="#feb642" points="784.0,490.0 800.0,476.0 806.0,466.0 808.0,500.0 784.0,500.0"/><polygon fill="#e1640e" points="868.0,392.0 882.0,387.0 892.0,379.0 894.0,390.0 900.0,410.0 910.0,418.0 890.0,422.0 896.0,436.0 904.0,450.0 912.0,464.0 900.0,470.0 880.0,470.0 864.0,484.0 856.0,500.0 804.0,500.0 806.0,466.0 802.0,448.0 808.0,444.0 820.0,436.0 840.0,434.0 864.0,440.0 874.0,432.0 868.0,420.0 862.0,410.0 864.0,404.0"/><polygon fill="#cc4c02" points="770.0,412.0 786.0,404.0 804.0,397.0 820.0,393.0 852.0,393.0 868.0,392.0 864.0,404.0 862.0,410.0 868.0,420.0 874.0,432.0 864.0,440.0 840.0,434.0 820.0,436.0 808.0,444.0 800.0,446.0 792.0,442.0 776.0,436.0 770.0,430.0"/><polygon fill="#fe9929" points="900.0,371.0 908.0,370.0 916.0,380.0 926.0,392.0 944.0,406.0 964.0,402.0 980.0,400.0 976.0,408.0 966.0,418.0 970.0,440.0 960.0,446.0 940.0,450.0 928.0,450.0 926.0,440.0 920.0,424.0 910.0,418.0 900.0,410.0 894.0,390.0"/><polygon fill="#feb642" points="890.0,422.0 906.0,420.0 920.0,428.0 926.0,440.0 924.0,452.0 916.0,464.0 910.0,462.0 904.0,450.0 896.0,436.0"/><polygon fill="#fee391" points="908.0,367.0 916.0,364.0 922.0,360.0 916.0,352.0 910.0,344.0 914.0,332.0 922.0,325.0 932.0,327.0 940.0,332.0 958.0,334.0 970.0,328.0 984.0,316.0 996.0,318.0 1006.0,316.0 1018.0,309.0 1020.0,300.0 1028.0,293.0 1040.0,293.0 1040.0,346.0 1034.0,352.0 1024.0,372.0 1030.0,384.0 1032.0,402.0 1016.0,408.0 998.0,412.0 988.0,412.0 986.0,400.0 976.0,399.0 960.0,402.0 944.0,406.0 932.0,398.0 920.0,384.0"/><polygon fill="#e1640e" points="1034.0,348.0 1040.0,346.0 1040.0,392.0 1030.0,390.0 1026.0,372.0"/><polygon fill="#aa3c03" points="1030.0,392.0 1040.0,392.0 1040.0,440.0 1028.0,430.0 1016.0,422.0 1012.0,412.0 1032.0,402.0"/><polygon fill="#e1640e" points="912.0,464.0 926.0,450.0 940.0,450.0 960.0,446.0 970.0,452.0 976.0,458.0 980.0,470.0 966.0,484.0 962.0,500.0 916.0,500.0 906.0,484.0 900.0,470.0"/><polygon fill="#cc4c02" points="964.0,418.0 980.0,402.0 988.0,412.0 998.0,412.0 1008.0,408.0 1016.0,422.0 1006.0,432.0 1000.0,442.0 1008.0,454.0 1000.0,466.0 980.0,470.0 976.0,458.0 968.0,448.0 970.0,440.0"/><polygon fill="#e1640e" points="1000.0,432.0 1016.0,422.0 1028.0,430.0 1040.0,440.0 1040.0,468.0 1020.0,470.0 1000.0,466.0 1008.0,454.0 1000.0,442.0"/><polygon fill="#aa3c03" points="962.0,500.0 966.0,484.0 980.0,470.0 1000.0,466.0 1016.0,472.0 1020.0,500.0"/><polygon fill="#cc4c02" points="856.0,500.0 864.0,484.0 880.0,470.0 900.0,468.0 906.0,484.0 896.0,500.0"/><polygon fill="#fe9929" points="896.0,500.0 906.0,484.0 916.0,488.0 920.0,500.0"/><polygon fill="#aa3c03" points="1028.0,204.0 1040.0,208.0 1040.0,257.0 1020.0,254.0 1011.0,259.0 1003.0,248.0 1010.0,238.0"/></g>
<g clip-path="url(#kT5)"><polygon fill="#f27e1b" points="1000.0,100.0 1300.0,100.0 1300.0,400.0 1000.0,400.0"/><polygon fill="#aa3c03" points="1098.0,266.0 1104.0,262.0 1112.0,262.0 1120.0,272.0 1140.0,270.0 1158.0,268.0 1180.0,250.0 1200.0,240.0 1204.0,244.0 1212.0,220.0 1220.0,200.0 1230.0,184.0 1238.0,174.0 1220.0,160.0 1200.0,166.0 1170.0,168.0 1164.0,144.0 1150.0,137.0 1140.0,142.0 1130.0,134.0 1142.0,122.0 1138.0,115.0 1120.0,117.0 1104.0,128.0 1104.0,134.0 1116.0,136.0 1120.0,146.0 1104.0,158.0 1096.0,172.0 1084.0,188.0 1086.0,198.0 1070.0,202.0 1054.0,211.0 1028.0,204.0 1014.0,228.0 1009.0,238.0 1003.0,248.0 1012.0,258.0 1026.0,256.0 1044.0,259.0 1054.0,251.0 1070.0,252.0 1084.0,260.0"/><polygon fill="#882f05" points="1138.0,115.0 1176.0,109.0 1192.0,112.0 1212.0,119.0 1228.0,122.0 1240.0,132.0 1246.0,144.0 1250.0,154.0 1258.0,168.0 1258.0,176.0 1238.0,174.0 1220.0,160.0 1200.0,166.0 1170.0,168.0 1164.0,144.0 1150.0,137.0 1140.0,142.0 1130.0,134.0 1142.0,122.0"/><polygon fill="#cc4c02" points="1238.0,174.0 1258.0,176.0 1268.0,184.0 1272.0,194.0 1276.0,209.0 1286.0,211.0 1300.0,208.0 1300.0,240.0 1288.0,244.0 1288.0,264.0 1276.0,276.0 1254.0,270.0 1250.0,252.0 1236.0,232.0 1212.0,228.0 1212.0,220.0 1220.0,200.0 1230.0,184.0"/><polygon fill="#e1640e" points="1200.0,240.0 1212.0,228.0 1236.0,232.0 1250.0,252.0 1248.0,266.0 1222.0,266.0 1192.0,274.0 1186.0,284.0 1170.0,284.0 1160.0,270.0 1180.0,250.0"/><polygon fill="#aa3c03" points="1288.0,244.0 1300.0,240.0 1300.0,290.0 1276.0,276.0 1288.0,264.0"/><polygon fill="#f27e1b" points="1222.0,266.0 1248.0,266.0 1254.0,270.0 1276.0,276.0 1300.0,290.0 1300.0,340.0 1292.0,342.0 1280.0,356.0 1260.0,340.0 1240.0,324.0 1230.0,310.0 1220.0,300.0 1212.0,292.0 1220.0,274.0"/><polygon fill="#aa3c03" points="1190.0,274.0 1212.0,266.0 1220.0,272.0 1218.0,290.0 1230.0,310.0 1240.0,324.0 1230.0,326.0 1200.0,316.0 1192.0,300.0 1186.0,284.0"/><polygon fill="#fee391" points="1000.0,317.0 1012.0,310.0 1020.0,300.0 1030.0,292.0 1044.0,288.0 1060.0,284.0 1078.0,283.0 1088.0,286.0 1100.0,285.0 1098.0,306.0 1086.0,318.0 1066.0,346.0 1040.0,350.0 1020.0,370.0 1000.0,376.0"/><polygon fill="#e1640e" points="1020.0,370.0 1040.0,350.0 1066.0,346.0 1086.0,318.0 1096.0,332.0 1112.0,344.0 1124.0,360.0 1112.0,380.0 1130.0,390.0 1124.0,400.0 1024.0,400.0"/><polygon fill="#662506" points="1094.0,266.0 1112.0,262.0 1120.0,272.0 1140.0,270.0 1158.0,268.0 1166.0,276.0 1172.0,292.0 1168.0,302.0 1152.0,304.0 1140.0,304.0 1148.0,316.0 1152.0,346.0 1132.0,334.0 1112.0,318.0 1086.0,318.0 1098.0,306.0 1100.0,285.0"/><polygon fill="#cc4c02" points="1140.0,304.0 1160.0,306.0 1172.0,296.0 1188.0,296.0 1192.0,300.0 1200.0,316.0 1220.0,320.0 1200.0,330.0 1176.0,340.0 1154.0,348.0 1148.0,316.0"/><polygon fill="#882f05" points="1086.0,318.0 1112.0,318.0 1132.0,334.0 1152.0,346.0 1170.0,342.0 1176.0,352.0 1180.0,370.0 1176.0,384.0 1130.0,390.0 1112.0,380.0 1124.0,360.0 1112.0,344.0 1096.0,332.0"/><polygon fill="#aa3c03" points="1170.0,342.0 1200.0,330.0 1220.0,322.0 1238.0,324.0 1240.0,346.0 1210.0,348.0 1180.0,356.0"/><polygon fill="#fe9929" points="1180.0,356.0 1210.0,348.0 1240.0,346.0 1260.0,340.0 1280.0,356.0 1292.0,342.0 1300.0,340.0 1300.0,400.0 1180.0,400.0 1176.0,384.0"/><polygon fill="#feb642" points="1280.0,356.0 1292.0,342.0 1300.0,340.0 1300.0,400.0 1272.0,400.0 1276.0,376.0"/><polygon fill="#cc4c02" points="1208.0,372.0 1230.0,376.0 1250.0,388.0 1250.0,400.0 1208.0,400.0"/></g>
<g clip-path="url(#kT6)"><polygon fill="#e1640e" points="1150.0,180.0 1450.0,180.0 1450.0,480.0 1150.0,480.0"/><polygon fill="#aa3c03" points="1150.0,180.0 1232.0,180.0 1222.0,200.0 1218.0,220.0 1210.0,226.0 1198.0,240.0 1202.0,248.0 1180.0,258.0 1158.0,268.0 1150.0,268.0"/><polygon fill="#882f05" points="1188.0,187.0 1202.0,186.0 1201.0,194.0 1189.0,193.0"/><polygon fill="#cc4c02" points="1232.0,180.0 1266.0,180.0 1270.0,194.0 1278.0,210.0 1308.0,215.0 1316.0,226.0 1302.0,236.0 1288.0,244.0 1286.0,256.0 1270.0,252.0 1250.0,258.0 1236.0,236.0 1216.0,228.0 1210.0,226.0 1218.0,220.0 1222.0,200.0"/><polygon fill="#e1640e" points="1158.0,268.0 1210.0,226.0 1236.0,236.0 1250.0,258.0 1270.0,252.0 1286.0,256.0 1276.0,276.0 1298.0,288.0 1316.0,288.0 1322.0,270.0 1342.0,270.0 1370.0,266.0 1380.0,258.0 1394.0,248.0 1410.0,243.0 1430.0,241.0 1441.0,240.0 1430.0,246.0 1432.0,258.0 1422.0,266.0 1420.0,276.0 1414.0,288.0 1370.0,300.0 1350.0,300.0 1330.0,300.0 1310.0,310.0 1294.0,340.0 1278.0,350.0 1260.0,338.0 1240.0,322.0 1230.0,316.0 1206.0,320.0 1150.0,340.0"/><polygon fill="#aa3c03" points="1308.0,215.0 1320.0,218.0 1336.0,228.0 1342.0,230.0 1344.0,240.0 1342.0,248.0 1350.0,258.0 1380.0,258.0 1370.0,266.0 1342.0,270.0 1322.0,270.0 1316.0,288.0 1298.0,288.0 1276.0,276.0 1290.0,260.0 1288.0,244.0 1302.0,236.0 1316.0,226.0"/><polygon fill="#f27e1b" points="1218.0,272.0 1236.0,260.0 1254.0,256.0 1286.0,250.0 1290.0,266.0 1274.0,278.0 1250.0,292.0 1244.0,304.0 1234.0,318.0 1210.0,312.0 1216.0,296.0"/><polygon fill="#aa3c03" points="1190.0,278.0 1204.0,268.0 1220.0,266.0 1220.0,284.0 1214.0,296.0 1226.0,304.0 1230.0,316.0 1206.0,318.0 1194.0,308.0 1188.0,288.0"/><polygon fill="#662506" points="1150.0,270.0 1158.0,268.0 1172.0,282.0 1168.0,304.0 1158.0,310.0 1150.0,304.0"/><polygon fill="#cc4c02" points="1150.0,310.0 1158.0,310.0 1172.0,296.0 1190.0,298.0 1196.0,310.0 1206.0,320.0 1180.0,330.0 1162.0,342.0 1150.0,346.0"/><polygon fill="#aa3c03" points="1176.0,336.0 1194.0,320.0 1216.0,320.0 1238.0,324.0 1240.0,334.0 1220.0,340.0 1206.0,338.0 1194.0,350.0 1176.0,346.0"/><polygon fill="#882f05" points="1150.0,346.0 1162.0,342.0 1176.0,346.0 1180.0,360.0 1184.0,372.0 1170.0,380.0 1150.0,386.0"/><polygon fill="#cc4c02" points="1340.0,280.0 1362.0,272.0 1382.0,268.0 1410.0,264.0 1422.0,260.0 1420.0,276.0 1414.0,288.0 1390.0,304.0 1370.0,306.0 1350.0,296.0"/><polygon fill="#fece65" points="1336.0,318.0 1350.0,312.0 1370.0,302.0 1390.0,300.0 1412.0,288.0 1410.0,300.0 1404.0,312.0 1396.0,320.0 1394.0,327.0 1370.0,320.0 1358.0,326.0 1350.0,330.0 1342.0,326.0"/><polygon fill="#fff0ae" points="1330.0,300.0 1360.0,296.0 1368.0,302.0 1360.0,310.0 1340.0,312.0 1330.0,308.0"/><polygon fill="#f27e1b" points="1294.0,340.0 1310.0,310.0 1330.0,308.0 1340.0,312.0 1336.0,318.0 1342.0,326.0 1350.0,330.0 1352.0,340.0 1354.0,354.0 1356.0,368.0 1334.0,356.0 1310.0,364.0 1300.0,364.0 1290.0,344.0"/><polygon fill="#feb642" points="1276.0,352.0 1290.0,344.0 1300.0,364.0 1310.0,364.0 1334.0,356.0 1356.0,368.0 1350.0,378.0 1338.0,382.0 1340.0,392.0 1336.0,390.0 1330.0,382.0 1320.0,386.0 1318.0,394.0 1306.0,402.0 1284.0,404.0 1278.0,380.0 1270.0,370.0"/><polygon fill="#e1640e" points="1180.0,360.0 1210.0,380.0 1224.0,372.0 1240.0,360.0 1260.0,338.0 1278.0,350.0 1276.0,352.0 1270.0,370.0 1278.0,380.0 1284.0,404.0 1290.0,416.0 1282.0,420.0 1268.0,416.0 1258.0,412.0 1250.0,418.0 1238.0,400.0 1222.0,390.0 1184.0,372.0"/><polygon fill="#cc4c02" points="1212.0,378.0 1224.0,370.0 1246.0,370.0 1254.0,390.0 1242.0,406.0 1234.0,432.0 1222.0,410.0 1214.0,390.0"/><polygon fill="#f27e1b" points="1150.0,386.0 1170.0,380.0 1184.0,372.0 1210.0,380.0 1214.0,390.0 1222.0,410.0 1234.0,432.0 1230.0,434.0 1216.0,440.0 1204.0,450.0 1190.0,460.0 1176.0,466.0 1162.0,472.0 1150.0,476.0"/><polygon fill="#feb642" points="1186.0,406.0 1202.0,396.0 1216.0,394.0 1220.0,414.0 1202.0,420.0 1190.0,416.0"/><polygon fill="#882f05" points="1150.0,432.0 1158.0,430.0 1168.0,440.0 1166.0,454.0 1150.0,456.0"/></g>
<g clip-path="url(#kT7)"><polygon fill="#e1640e" points="1000.0,400.0 1300.0,400.0 1300.0,700.0 1000.0,700.0"/><polygon fill="#f27e1b" points="1130.0,400.0 1288.0,400.0 1288.0,414.0 1284.0,420.0 1268.0,418.0 1256.0,410.0 1250.0,418.0 1230.0,434.0 1220.0,440.0 1200.0,452.0 1190.0,462.0 1172.0,466.0 1156.0,466.0 1140.0,476.0 1128.0,484.0 1130.0,478.0 1144.0,470.0 1136.0,466.0 1132.0,460.0 1148.0,450.0 1152.0,440.0 1146.0,434.0 1140.0,420.0"/><polygon fill="#cc4c02" points="1222.0,400.0 1288.0,400.0 1288.0,414.0 1284.0,420.0 1268.0,418.0 1256.0,410.0 1250.0,418.0 1230.0,434.0 1224.0,420.0"/><polygon fill="#feb642" points="1186.0,402.0 1220.0,400.0 1222.0,420.0 1204.0,422.0 1188.0,416.0"/><polygon fill="#882f05" points="1148.0,434.0 1160.0,432.0 1170.0,440.0 1168.0,452.0 1158.0,456.0 1148.0,450.0 1152.0,440.0"/><polygon fill="#cc4c02" points="1160.0,424.0 1176.0,428.0 1184.0,440.0 1180.0,454.0 1168.0,452.0 1170.0,440.0"/><polygon fill="#aa3c03" points="1012.0,408.0 1060.0,400.0 1128.0,400.0 1160.0,400.0 1158.0,418.0 1140.0,424.0 1120.0,430.0 1094.0,440.0 1084.0,440.0 1060.0,444.0 1040.0,444.0 1016.0,420.0"/><polygon fill="#e1640e" points="1060.0,400.0 1088.0,400.0 1086.0,420.0 1066.0,420.0"/><polygon fill="#fece65" points="1086.0,440.0 1110.0,430.0 1124.0,428.0 1124.0,440.0 1112.0,450.0 1098.0,456.0 1096.0,452.0"/><polygon fill="#cc4c02" points="1000.0,408.0 1012.0,408.0 1024.0,430.0 1024.0,460.0 1000.0,460.0"/><polygon fill="#f27e1b" points="1006.0,440.0 1040.0,432.0 1046.0,444.0 1036.0,466.0 1006.0,466.0"/><polygon fill="#cc4c02" points="1040.0,444.0 1084.0,440.0 1096.0,452.0 1090.0,464.0 1088.0,472.0 1070.0,480.0 1058.0,476.0 1050.0,488.0 1040.0,492.0 1030.0,480.0 1046.0,466.0"/><polygon fill="#aa3c03" points="1000.0,460.0 1024.0,460.0 1018.0,520.0 1010.0,532.0 1000.0,536.0"/><polygon fill="#f27e1b" points="1012.0,466.0 1030.0,466.0 1030.0,494.0 1054.0,498.0 1050.0,510.0 1024.0,512.0 1018.0,490.0"/><polygon fill="#aa3c03" points="1020.0,510.0 1050.0,510.0 1046.0,524.0 1024.0,544.0 1016.0,530.0"/><polygon fill="#f27e1b" points="1040.0,500.0 1054.0,498.0 1076.0,504.0 1084.0,510.0 1086.0,514.0 1078.0,518.0 1086.0,528.0 1066.0,532.0 1050.0,528.0"/><polygon fill="#fe9929" points="1060.0,504.0 1080.0,506.0 1086.0,514.0 1078.0,518.0 1084.0,528.0 1066.0,530.0"/><polygon fill="#cc4c02" points="1050.0,528.0 1086.0,528.0 1096.0,528.0 1100.0,550.0 1092.0,574.0 1086.0,580.0 1060.0,592.0 1046.0,580.0 1048.0,552.0"/><polygon fill="#e1640e" points="1096.0,528.0 1108.0,514.0 1120.0,512.0 1130.0,518.0 1148.0,519.0 1164.0,522.0 1160.0,536.0 1144.0,538.0 1128.0,544.0 1116.0,552.0 1108.0,560.0 1100.0,566.0 1096.0,550.0"/><polygon fill="#fe9929" points="1130.0,522.0 1148.0,519.0 1164.0,522.0 1160.0,536.0 1140.0,538.0 1130.0,532.0"/><polygon fill="#aa3c03" points="1072.0,558.0 1088.0,558.0 1096.0,566.0 1090.0,576.0 1076.0,574.0"/><polygon fill="#f27e1b" points="1010.0,544.0 1048.0,552.0 1046.0,580.0 1060.0,592.0 1040.0,592.0 1020.0,590.0 1012.0,570.0"/><polygon fill="#f27e1b" points="1080.0,584.0 1096.0,594.0 1108.0,600.0 1112.0,610.0 1090.0,610.0 1076.0,600.0"/><polygon fill="#cc4c02" points="1090.0,610.0 1112.0,610.0 1114.0,616.0 1120.0,630.0 1124.0,642.0 1112.0,646.0 1096.0,636.0"/><polygon fill="#aa3c03" points="1076.0,606.0 1094.0,608.0 1096.0,636.0 1082.0,640.0 1066.0,630.0 1068.0,616.0"/><polygon fill="#f27e1b" points="1060.0,620.0 1068.0,616.0 1066.0,630.0 1082.0,640.0 1096.0,636.0 1112.0,646.0 1124.0,642.0 1136.0,650.0 1144.0,660.0 1148.0,670.0 1150.0,678.0 1144.0,680.0 1148.0,690.0 1152.0,700.0 1076.0,700.0 1060.0,676.0 1072.0,654.0"/><polygon fill="#feb642" points="1080.0,652.0 1100.0,650.0 1100.0,666.0 1084.0,666.0"/><polygon fill="#fe9929" points="1104.0,660.0 1128.0,664.0 1130.0,684.0 1112.0,692.0 1100.0,680.0"/><polygon fill="#cc4c02" points="1000.0,590.0 1020.0,590.0 1030.0,620.0 1028.0,646.0 1000.0,648.0"/><polygon fill="#aa3c03" points="1000.0,606.0 1020.0,608.0 1028.0,624.0 1032.0,646.0 1000.0,646.0"/><polygon fill="#feb642" points="1022.0,606.0 1032.0,606.0 1034.0,622.0 1026.0,624.0"/><polygon fill="#aa3c03" points="1030.0,630.0 1066.0,630.0 1072.0,654.0 1060.0,676.0 1066.0,690.0 1036.0,690.0 1026.0,660.0"/><polygon fill="#882f05" points="1020.0,634.0 1038.0,634.0 1038.0,660.0 1024.0,658.0"/><polygon fill="#662506" points="1056.0,660.0 1068.0,658.0 1076.0,672.0 1066.0,676.0 1056.0,672.0"/><polygon fill="#fe9929" points="1000.0,648.0 1026.0,648.0 1038.0,676.0 1030.0,680.0 1000.0,680.0"/><polygon fill="#882f05" points="1010.0,680.0 1036.0,680.0 1038.0,700.0 1008.0,700.0"/><polygon fill="#cc4c02" points="1000.0,680.0 1010.0,680.0 1008.0,700.0 1000.0,700.0"/></g>
<g clip-path="url(#kT8)"><polygon fill="#f27e1b" points="950.0,680.0 1250.0,680.0 1250.0,980.0 950.0,980.0"/><polygon fill="#cc4c02" points="950.0,680.0 1014.0,680.0 1014.0,720.0 970.0,724.0 950.0,720.0"/><polygon fill="#882f05" points="1008.0,680.0 1036.0,680.0 1038.0,704.0 1030.0,716.0 1016.0,716.0 1010.0,692.0"/><polygon fill="#aa3c03" points="1034.0,680.0 1062.0,680.0 1074.0,708.0 1070.0,724.0 1050.0,720.0 1034.0,714.0"/><polygon fill="#882f05" points="1044.0,700.0 1058.0,698.0 1076.0,708.0 1066.0,724.0 1046.0,716.0"/><polygon fill="#feb642" points="1110.0,688.0 1126.0,688.0 1130.0,702.0 1114.0,702.0"/><polygon fill="#cc4c02" points="1102.0,702.0 1130.0,700.0 1144.0,710.0 1150.0,714.0 1146.0,722.0 1148.0,732.0 1130.0,730.0 1110.0,728.0 1098.0,714.0"/><polygon fill="#aa3c03" points="1086.0,726.0 1102.0,718.0 1118.0,728.0 1114.0,740.0 1098.0,748.0 1088.0,738.0"/><polygon fill="#fe9929" points="1094.0,740.0 1114.0,738.0 1130.0,746.0 1126.0,766.0 1114.0,780.0 1098.0,774.0"/><polygon fill="#fee391" points="1060.0,728.0 1074.0,726.0 1088.0,732.0 1088.0,754.0 1070.0,756.0 1062.0,740.0"/><polygon fill="#fece65" points="1070.0,756.0 1088.0,748.0 1110.0,742.0 1112.0,764.0 1096.0,774.0 1084.0,778.0 1076.0,770.0"/><polygon fill="#fffaca" points="980.0,696.0 990.0,696.0 992.0,708.0 982.0,710.0"/><polygon fill="#feb642" points="1000.0,736.0 1016.0,734.0 1024.0,750.0 1012.0,758.0 1002.0,748.0"/><polygon fill="#fff0ae" points="1030.0,750.0 1040.0,746.0 1044.0,762.0 1034.0,764.0"/><polygon fill="#e1640e" points="1024.0,720.0 1050.0,724.0 1066.0,736.0 1068.0,758.0 1046.0,764.0 1038.0,748.0 1030.0,732.0"/><polygon fill="#e1640e" points="950.0,720.0 968.0,726.0 970.0,760.0 966.0,800.0 968.0,830.0 950.0,832.0"/><polygon fill="#aa3c03" points="962.0,772.0 970.0,764.0 1002.0,764.0 1006.0,784.0 1024.0,800.0 1014.0,820.0 1008.0,850.0 974.0,848.0 978.0,836.0 968.0,830.0 966.0,800.0"/><polygon fill="#882f05" points="959.0,768.0 968.0,764.0 972.0,780.0 964.0,786.0"/><polygon fill="#fff0ae" points="1038.0,770.0 1054.0,762.0 1074.0,756.0 1078.0,776.0 1084.0,780.0 1070.0,800.0 1054.0,798.0 1038.0,784.0"/><polygon fill="#f27e1b" points="1070.0,800.0 1084.0,780.0 1094.0,772.0 1110.0,778.0 1114.0,784.0 1102.0,796.0 1086.0,800.0"/><polygon fill="#fece65" points="1026.0,788.0 1038.0,784.0 1054.0,798.0 1070.0,800.0 1068.0,816.0 1046.0,836.0 1034.0,846.0 1010.0,840.0 1016.0,820.0 1024.0,800.0"/><polygon fill="#fff0ae" points="1070.0,800.0 1100.0,798.0 1098.0,820.0 1090.0,828.0 1070.0,824.0 1068.0,816.0"/><polygon fill="#feb642" points="1066.0,820.0 1086.0,822.0 1082.0,832.0 1068.0,830.0"/><polygon fill="#f27e1b" points="1046.0,836.0 1068.0,816.0 1070.0,824.0 1090.0,828.0 1080.0,834.0 1074.0,844.0 1062.0,852.0 1046.0,850.0"/><polygon fill="#cc4c02" points="1034.0,846.0 1046.0,840.0 1054.0,844.0 1062.0,852.0 1056.0,860.0 1046.0,870.0 1036.0,876.0 1034.0,860.0"/><polygon fill="#fece65" points="1054.0,842.0 1064.0,842.0 1066.0,850.0 1058.0,854.0"/><polygon fill="#feb642" points="950.0,848.0 1010.0,840.0 1034.0,846.0 1034.0,860.0 1036.0,876.0 1026.0,888.0 1010.0,894.0 990.0,896.0 980.0,900.0 970.0,904.0 960.0,910.0 950.0,918.0"/><polygon fill="#cc4c02" points="1006.0,874.0 1030.0,860.0 1036.0,876.0 1026.0,888.0 1014.0,892.0"/><polygon fill="#fece65" points="950.0,860.0 962.0,866.0 962.0,910.0 950.0,918.0"/><polygon fill="#cc4c02" points="974.0,848.0 990.0,846.0 982.0,860.0 972.0,856.0"/></g>
<g clip-path="url(#kT9)"><polygon fill="#fee391" points="700.0,780.0 1000.0,780.0 1000.0,1080.0 700.0,1080.0"/><polygon fill="#feb642" points="700.0,844.0 720.0,840.0 756.0,846.0 764.0,850.0 770.0,856.0 792.0,864.0 792.0,870.0 776.0,880.0 766.0,884.0 760.0,890.0 750.0,892.0 742.0,902.0 734.0,900.0 726.0,896.0 720.0,902.0 712.0,898.0 700.0,904.0"/><polygon fill="#fece65" points="700.0,796.0 720.0,804.0 740.0,790.0 752.0,798.0 760.0,832.0 756.0,846.0 720.0,840.0 700.0,844.0"/><polygon fill="#fee391" points="700.0,780.0 720.0,780.0 720.0,806.0 700.0,806.0"/><polygon fill="#fece65" points="756.0,810.0 784.0,812.0 800.0,836.0 792.0,844.0 770.0,840.0 756.0,846.0"/><polygon fill="#e1640e" points="818.0,800.0 830.0,780.0 866.0,780.0 864.0,814.0 852.0,822.0 840.0,826.0 828.0,816.0"/><polygon fill="#fe9929" points="792.0,792.0 806.0,784.0 816.0,788.0 812.0,804.0 800.0,804.0"/><polygon fill="#ffffe5" points="756.0,846.0 770.0,840.0 792.0,844.0 812.0,826.0 820.0,830.0 830.0,834.0 840.0,826.0 852.0,822.0 864.0,816.0 874.0,812.0 890.0,806.0 900.0,806.0 908.0,816.0 900.0,838.0 912.0,844.0 920.0,850.0 920.0,864.0 910.0,880.0 896.0,892.0 880.0,898.0 870.0,908.0 874.0,924.0 860.0,930.0 854.0,924.0 840.0,928.0 824.0,924.0 816.0,922.0 806.0,916.0 802.0,904.0 800.0,896.0 806.0,894.0 796.0,888.0 784.0,890.0 778.0,884.0 776.0,880.0 792.0,870.0 792.0,864.0 770.0,856.0 764.0,850.0"/><polygon fill="#fff0ae" points="870.0,820.0 890.0,806.0 900.0,806.0 908.0,816.0 900.0,838.0 912.0,844.0 920.0,850.0 920.0,864.0 900.0,856.0 884.0,856.0 870.0,840.0"/><polygon fill="#fffaca" points="820.0,880.0 844.0,868.0 860.0,852.0 884.0,856.0 900.0,856.0 920.0,864.0 910.0,880.0 896.0,892.0 880.0,898.0 870.0,908.0 874.0,924.0 860.0,930.0 854.0,924.0 840.0,928.0 824.0,924.0 826.0,908.0 820.0,896.0"/><polygon fill="#fece65" points="870.0,892.0 892.0,888.0 898.0,904.0 888.0,920.0 874.0,924.0 870.0,908.0"/><polygon fill="#fee391" points="822.0,910.0 840.0,910.0 852.0,920.0 840.0,928.0 824.0,924.0"/><polygon fill="#e1640e" points="852.0,920.0 870.0,918.0 872.0,928.0 860.0,930.0"/><polygon fill="#f27e1b" points="900.0,788.0 966.0,780.0 968.0,846.0 944.0,828.0 926.0,836.0 910.0,842.0 900.0,838.0 908.0,816.0 892.0,808.0"/><polygon fill="#e1640e" points="912.0,788.0 966.0,780.0 968.0,820.0 944.0,828.0 930.0,820.0 924.0,804.0"/><polygon fill="#aa3c03" points="966.0,780.0 1000.0,780.0 1000.0,846.0 980.0,850.0 970.0,840.0 968.0,820.0"/><polygon fill="#fe9929" points="976.0,850.0 1000.0,846.0 1000.0,895.0 982.0,900.0 960.0,898.0 960.0,870.0"/><polygon fill="#feb642" points="900.0,838.0 910.0,842.0 926.0,836.0 944.0,828.0 968.0,846.0 962.0,866.0 960.0,898.0 952.0,916.0 940.0,924.0 928.0,924.0 920.0,926.0 912.0,928.0 896.0,932.0 890.0,936.0 884.0,940.0 874.0,932.0 870.0,908.0 880.0,898.0 896.0,892.0 910.0,880.0 920.0,864.0 920.0,850.0"/><polygon fill="#fee391" points="912.0,856.0 930.0,856.0 950.0,876.0 960.0,892.0 956.0,912.0 940.0,916.0 920.0,908.0 912.0,892.0"/><polygon fill="#fe9929" points="888.0,910.0 900.0,892.0 920.0,888.0 930.0,900.0 912.0,908.0 908.0,928.0 896.0,932.0 890.0,936.0 884.0,940.0 886.0,920.0"/><polygon fill="#feb642" points="871.0,928.0 884.0,926.0 890.0,936.0 884.0,940.0 888.0,948.0 890.0,956.0 882.0,960.0 876.0,960.0 871.0,952.0 871.0,940.0"/><polygon fill="#e1640e" points="962.0,896.0 974.0,894.0 980.0,900.0 974.0,908.0 960.0,904.0"/></g>
<g clip-path="url(#kT10)"><polygon fill="#fff0ae" points="470.0,660.0 770.0,660.0 770.0,960.0 470.0,960.0"/><polygon fill="#fffaca" points="470.0,660.0 536.0,660.0 530.0,684.0 510.0,692.0 470.0,700.0"/><polygon fill="#cc4c02" points="478.0,712.0 494.0,696.0 510.0,702.0 530.0,696.0 550.0,696.0 570.0,702.0 578.0,708.0 576.0,726.0 588.0,724.0 598.0,730.0 610.0,740.0 622.0,752.0 624.0,756.0 614.0,764.0 610.0,754.0 600.0,750.0 594.0,760.0 588.0,768.0 574.0,762.0 562.0,756.0 554.0,758.0 540.0,766.0 526.0,772.0 518.0,756.0 504.0,744.0 484.0,742.0 496.0,724.0 486.0,716.0"/><polygon fill="#d9d9d9" points="470.0,722.0 494.0,718.0 496.0,726.0 484.0,742.0 504.0,744.0 518.0,756.0 526.0,772.0 516.0,784.0 506.0,789.0 490.0,790.0 476.0,791.0 470.0,776.0"/><polygon fill="#fffaca" points="630.0,660.0 770.0,660.0 770.0,690.0 718.0,688.0 706.0,700.0 698.0,726.0 688.0,750.0 678.0,736.0 666.0,740.0 660.0,764.0 646.0,742.0 636.0,750.0 632.0,732.0 630.0,692.0 626.0,676.0 618.0,660.0"/><polygon fill="#ffffe5" points="670.0,660.0 746.0,660.0 742.0,672.0 726.0,684.0 700.0,696.0 682.0,684.0"/><polygon fill="#f27e1b" points="698.0,726.0 706.0,700.0 718.0,688.0 770.0,690.0 770.0,748.0 750.0,752.0 730.0,744.0 716.0,740.0"/><polygon fill="#fe9929" points="740.0,660.0 770.0,660.0 770.0,700.0 746.0,688.0"/><polygon fill="#d9d9d9" points="622.0,738.0 632.0,732.0 636.0,750.0 646.0,742.0 658.0,756.0 660.0,770.0 654.0,790.0 642.0,788.0 636.0,784.0 626.0,772.0 616.0,772.0 614.0,764.0 624.0,756.0"/><polygon fill="#fece65" points="662.0,740.0 678.0,736.0 688.0,750.0 706.0,736.0 724.0,740.0 738.0,748.0 730.0,764.0 720.0,780.0 720.0,804.0 696.0,812.0 686.0,792.0 680.0,780.0 664.0,768.0"/><polygon fill="#fff0ae" points="682.0,780.0 700.0,782.0 702.0,800.0 696.0,810.0 686.0,800.0"/><polygon fill="#fee391" points="640.0,772.0 662.0,766.0 670.0,772.0 682.0,788.0 694.0,810.0 706.0,812.0 706.0,860.0 684.0,856.0 670.0,846.0 654.0,844.0 642.0,820.0"/><polygon fill="#ffffe5" points="614.0,764.0 626.0,772.0 636.0,784.0 642.0,790.0 632.0,812.0 624.0,810.0 626.0,796.0 624.0,774.0 616.0,772.0"/><polygon fill="#fe9929" points="632.0,812.0 642.0,800.0 660.0,796.0 674.0,810.0 676.0,830.0 668.0,844.0 658.0,842.0 646.0,836.0"/><polygon fill="#fece65" points="614.0,824.0 632.0,818.0 646.0,836.0 650.0,850.0 640.0,858.0 622.0,858.0 612.0,844.0"/><polygon fill="#fffaca" points="604.0,832.0 614.0,824.0 612.0,844.0 622.0,858.0 626.0,862.0 610.0,862.0 600.0,866.0 602.0,856.0 599.0,846.0"/><polygon fill="#fee391" points="720.0,746.0 770.0,748.0 770.0,840.0 754.0,850.0 758.0,830.0 754.0,798.0 736.0,792.0 720.0,804.0 720.0,780.0 730.0,764.0"/><polygon fill="#fece65" points="706.0,810.0 720.0,804.0 736.0,792.0 754.0,798.0 758.0,830.0 754.0,850.0 706.0,856.0"/><polygon fill="#ffffe5" points="754.0,840.0 770.0,836.0 770.0,854.0 756.0,852.0"/><polygon fill="#fff0ae" points="628.0,862.0 656.0,844.0 684.0,856.0 690.0,880.0 696.0,900.0 690.0,904.0 690.0,916.0 694.0,936.0 682.0,934.0 680.0,922.0 658.0,928.0 654.0,918.0 636.0,910.0 642.0,890.0 630.0,886.0"/><polygon fill="#fee391" points="642.0,890.0 670.0,876.0 690.0,880.0 696.0,900.0 690.0,904.0 690.0,916.0 694.0,936.0 682.0,934.0 680.0,922.0 658.0,928.0 654.0,918.0 636.0,910.0"/><polygon fill="#feb642" points="684.0,856.0 706.0,856.0 754.0,850.0 770.0,840.0 770.0,882.0 750.0,892.0 744.0,902.0 730.0,896.0 720.0,904.0 710.0,896.0 690.0,904.0 696.0,900.0 690.0,880.0"/></g>
<g clip-path="url(#kT11)"><polygon fill="#fffaca" points="170.0,540.0 470.0,540.0 470.0,840.0 170.0,840.0"/><polygon fill="#ffffe5" points="170.0,540.0 300.0,540.0 314.0,558.0 320.0,564.0 306.0,568.0 290.0,574.0 274.0,572.0 270.0,566.0 260.0,566.0 250.0,572.0 238.0,577.0 212.0,574.0 204.0,584.0 200.0,596.0 178.0,598.0 170.0,594.0"/><polygon fill="#d9d9d9" points="176.0,600.0 200.0,596.0 204.0,584.0 212.0,574.0 238.0,577.0 250.0,572.0 260.0,566.0 270.0,566.0 274.0,572.0 290.0,574.0 306.0,568.0 320.0,564.0 344.0,562.0 342.0,600.0 344.0,624.0 322.0,646.0 320.0,668.0 334.0,680.0 348.0,696.0 370.0,700.0 394.0,706.0 424.0,706.0 424.0,726.0 450.0,724.0 470.0,720.0 470.0,776.0 466.0,774.0 464.0,764.0 454.0,762.0 440.0,760.0 426.0,756.0 418.0,760.0 410.0,770.0 408.0,782.0 402.0,778.0 402.0,764.0 398.0,760.0 382.0,764.0 366.0,766.0 354.0,760.0 344.0,760.0 340.0,762.0 332.0,754.0 320.0,752.0 314.0,746.0 302.0,740.0 298.0,730.0 286.0,730.0 280.0,724.0 266.0,716.0 256.0,710.0 252.0,704.0 238.0,700.0 230.0,710.0 218.0,700.0 206.0,696.0 190.0,684.0 180.0,680.0 176.0,664.0 170.0,652.0 170.0,644.0 176.0,643.0 182.0,650.0 189.0,644.0 186.0,630.0 178.0,620.0 175.0,610.0"/><polygon fill="#cc4c02" points="424.0,588.0 446.0,586.0 470.0,592.0 470.0,636.0 454.0,630.0 430.0,620.0 422.0,608.0"/><polygon fill="#cc4c02" points="446.0,540.0 470.0,540.0 470.0,556.0 454.0,554.0"/><polygon fill="#ffffe5" points="426.0,708.0 440.0,688.0 454.0,684.0 470.0,692.0 470.0,720.0 450.0,724.0 426.0,726.0"/></g>
<g clip-path="url(#kT12)"><polygon fill="#fe9929" points="760.0,490.0 1010.0,490.0 1010.0,740.0 760.0,740.0"/><polygon fill="#fece65" points="760.0,490.0 785.0,490.0 783.3,511.7 760.0,516.7"/><polygon fill="#e1640e" points="800.0,498.3 801.7,490.0 860.0,490.0 853.3,506.7 838.3,515.0 820.0,510.0"/><polygon fill="#cc4c02" points="853.3,506.7 860.0,490.0 898.3,490.0 893.3,518.3 880.0,530.0 860.0,520.0 841.7,521.7 826.7,528.3 818.3,531.7 818.3,513.3 838.3,515.0"/><polygon fill="#feb642" points="826.7,528.3 841.7,521.7 860.0,520.0 880.0,530.0 888.3,531.7 888.3,561.7 876.7,573.3 860.0,568.3 848.3,573.3 845.0,553.3 835.0,541.7 826.7,536.7"/><polygon fill="#cc4c02" points="846.7,576.7 856.7,568.3 865.0,571.7 860.0,583.3 850.0,586.7"/><polygon fill="#fe9929" points="890.0,498.3 903.3,490.0 918.3,495.0 926.7,518.3 910.0,538.3 888.3,531.7"/><polygon fill="#e1640e" points="910.0,490.0 968.3,490.0 968.3,515.0 951.7,508.3 926.7,518.3"/><polygon fill="#aa3c03" points="910.0,533.3 926.7,520.0 943.3,506.7 951.7,508.3 968.3,515.0 961.7,531.7 951.7,540.0 935.0,540.0"/><polygon fill="#aa3c03" points="958.3,490.0 1010.0,490.0 1010.0,533.3 968.3,515.0"/><polygon fill="#e1640e" points="956.7,531.7 968.3,515.0 1010.0,533.3 1010.0,556.7 988.3,553.3 960.0,548.3"/><polygon fill="#e1640e" points="888.3,535.0 910.0,538.3 935.0,540.0 951.7,540.0 960.0,548.3 958.3,565.0 943.3,575.0 926.7,578.3 910.0,565.0 890.0,565.0"/><polygon fill="#aa3c03" points="921.7,560.0 936.7,556.7 958.3,561.7 951.7,573.3 935.0,576.7 923.3,570.0"/><polygon fill="#f27e1b" points="885.0,565.0 910.0,565.0 926.7,578.3 925.0,590.0 906.7,586.7 886.7,593.3"/><polygon fill="#fece65" points="886.7,593.3 906.7,586.7 921.7,583.3 923.3,591.7 906.7,603.3 905.0,618.3 896.7,616.7 888.3,603.3"/><polygon fill="#feb642" points="925.0,578.3 938.3,578.3 940.0,585.0 926.7,585.0"/><polygon fill="#f27e1b" points="940.0,583.3 943.3,575.0 960.0,548.3 988.3,553.3 990.0,583.3 976.7,598.3 943.3,600.0"/><polygon fill="#e1640e" points="901.7,598.3 943.3,598.3 976.7,600.0 990.0,583.3 1010.0,590.0 1010.0,650.0 960.0,650.0 926.7,648.3 910.0,643.3 901.7,628.3"/><polygon fill="#cc4c02" points="901.7,616.7 918.3,610.0 943.3,603.3 960.0,610.0 968.3,623.3 960.0,648.3 926.7,648.3 910.0,643.3"/><polygon fill="#aa3c03" points="946.7,598.3 973.3,600.0 975.0,615.0 956.7,615.0"/><polygon fill="#aa3c03" points="988.3,631.7 1001.7,606.7 1010.0,606.7 1010.0,648.3 996.7,643.3"/><polygon fill="#cc4c02" points="783.3,616.7 805.0,615.0 831.7,616.7 851.7,615.0 853.3,623.3 843.3,628.3 835.0,640.0 826.7,650.0 801.7,643.3 785.0,636.7"/><polygon fill="#aa3c03" points="835.0,616.7 853.3,613.3 845.0,626.7 865.0,631.7 881.7,640.0 876.7,666.7 860.0,665.0 843.3,655.0 835.0,640.0"/><polygon fill="#cc4c02" points="866.7,631.7 901.7,630.0 911.7,646.7 896.7,670.0 880.0,670.0 868.3,656.7"/><polygon fill="#662506" points="878.3,670.0 888.3,663.3 898.3,668.3 891.7,675.0 881.7,675.0"/><polygon fill="#fff0ae" points="760.0,600.0 770.0,596.7 785.0,606.7 798.3,616.7 785.0,623.3 786.7,640.0 760.0,643.3"/><polygon fill="#ffffe5" points="775.0,556.7 793.3,545.0 801.7,550.0 810.0,556.7 803.3,566.7 798.3,576.7 785.0,568.3 773.3,560.0"/><polygon fill="#cc4c02" points="760.0,518.3 785.0,513.3 788.3,523.3 796.7,540.0 781.7,550.0 770.0,540.0 760.0,528.3"/><polygon fill="#fee391" points="760.0,528.3 770.0,540.0 775.0,560.0 773.3,571.7 760.0,570.0"/><polygon fill="#f27e1b" points="760.0,570.0 773.3,571.7 798.3,576.7 826.7,580.0 826.7,586.7 798.3,583.3 760.0,586.7"/><polygon fill="#feb642" points="760.0,586.7 798.3,583.3 833.3,586.7 831.7,615.0 798.3,616.7 785.0,606.7 770.0,596.7 760.0,600.0"/><polygon fill="#cc4c02" points="760.0,643.3 786.7,640.0 801.7,643.3 803.3,670.0 776.7,670.0 760.0,656.7"/><polygon fill="#f27e1b" points="760.0,656.7 776.7,670.0 803.3,670.0 835.0,653.3 843.3,655.0 860.0,665.0 876.7,666.7 881.7,673.3 881.7,706.7 843.3,720.0 810.0,740.0 760.0,740.0"/><polygon fill="#fece65" points="776.7,670.0 801.7,663.3 810.0,698.3 793.3,700.0 780.0,690.0"/><polygon fill="#feb642" points="793.3,703.3 831.7,698.3 843.3,740.0 793.3,740.0"/><polygon fill="#fee391" points="831.7,700.0 843.3,698.3 853.3,723.3 853.3,740.0 838.3,740.0"/><polygon fill="#e1640e" points="920.0,670.0 960.0,673.3 960.0,720.0 920.0,720.0"/><polygon fill="#aa3c03" points="941.7,668.3 946.7,653.3 960.0,650.0 978.3,671.7 976.7,690.0 955.0,700.0 938.3,690.0"/><polygon fill="#cc4c02" points="910.0,706.7 960.0,703.3 960.0,740.0 910.0,740.0"/><polygon fill="#feb642" points="1000.0,665.0 1010.0,663.3 1010.0,678.3 1000.0,676.7"/><polygon fill="#fece65" points="978.3,696.7 988.3,695.0 991.7,706.7 980.0,710.0"/><polygon fill="#fece65" points="860.0,723.3 876.7,720.0 890.0,740.0 860.0,740.0"/></g>
<g clip-path="url(#kT13)"><polygon fill="#f27e1b" points="740.0,700.0 990.0,700.0 990.0,950.0 740.0,950.0"/><polygon fill="#feb642" points="740.0,700.0 781.7,700.0 781.7,740.0 740.0,743.3"/><polygon fill="#fece65" points="743.3,725.0 763.3,721.7 773.3,741.7 770.0,761.7 753.3,763.3 745.0,750.0"/><polygon fill="#feb642" points="795.0,700.0 835.0,700.0 833.3,721.7 820.0,731.7 795.0,743.3"/><polygon fill="#fee391" points="740.0,745.0 751.7,746.7 753.3,763.3 770.0,761.7 771.7,778.3 740.0,780.0"/><polygon fill="#fece65" points="740.0,780.0 771.7,778.3 790.0,776.7 793.3,793.3 740.0,793.3"/><polygon fill="#f27e1b" points="780.0,750.0 788.3,743.3 806.7,740.0 820.0,731.7 835.0,738.3 830.0,753.3 826.7,780.0 815.0,776.7 803.3,768.3 795.0,766.7 786.7,763.3"/><polygon fill="#fee391" points="833.3,700.0 843.3,700.0 848.3,720.0 863.3,733.3 863.3,770.0 853.3,780.0 826.7,778.3 830.0,753.3 835.0,738.3 826.7,733.3 836.7,715.0"/><polygon fill="#fece65" points="861.7,726.7 873.3,720.0 886.7,736.7 900.0,740.0 896.7,770.0 881.7,780.0 873.3,808.3 865.0,800.0 863.3,770.0"/><polygon fill="#fe9929" points="790.0,776.7 815.0,776.7 818.3,800.0 793.3,800.0"/><polygon fill="#fee391" points="793.3,793.3 816.7,793.3 833.3,816.7 840.0,830.0 793.3,830.0"/><polygon fill="#e1640e" points="818.3,800.0 826.7,783.3 843.3,775.0 853.3,778.3 866.7,785.0 865.0,816.7 846.7,826.7 835.0,816.7 830.0,803.3"/><polygon fill="#e1640e" points="873.3,716.7 906.7,710.0 906.7,740.0 890.0,740.0"/><polygon fill="#cc4c02" points="906.7,700.0 970.0,700.0 970.0,763.3 940.0,750.0 923.3,755.0 896.7,755.0 898.3,740.0 906.7,733.3"/><polygon fill="#e1640e" points="896.7,755.0 923.3,755.0 940.0,750.0 970.0,763.3 970.0,846.7 906.7,846.7 900.0,810.0 881.7,808.3 881.7,780.0"/><polygon fill="#fe9929" points="876.7,770.0 898.3,770.0 915.0,783.3 915.0,810.0 881.7,808.3 873.3,793.3"/><polygon fill="#aa3c03" points="965.0,760.0 990.0,763.3 990.0,850.0 970.0,846.7 966.7,800.0"/><polygon fill="#882f05" points="958.3,765.0 970.0,763.3 971.7,780.0 963.3,783.3"/></g>
<g clip-path="url(#kT14)"><polygon fill="#fe9929" points="620.0,470.0 870.0,470.0 870.0,720.0 620.0,720.0"/><polygon fill="#f27e1b" points="620.0,470.0 665.0,470.0 676.7,483.3 695.0,491.7 686.7,503.3 700.0,513.3 713.3,525.0 720.0,551.7 713.3,553.3 700.0,525.0 678.3,508.3 653.3,495.0 626.7,480.0 620.0,480.0"/><polygon fill="#fece65" points="665.0,470.0 745.0,470.0 746.7,483.3 728.3,488.3 713.3,476.7 696.7,478.3 683.3,490.0 676.7,483.3"/><polygon fill="#fe9929" points="683.3,491.7 696.7,478.3 713.3,476.7 728.3,488.3 746.7,483.3 743.3,495.0 730.0,505.0 733.3,515.0 746.7,520.0 736.7,528.3 740.0,545.0 753.3,556.7 736.7,563.3 720.0,551.7 713.3,525.0 700.0,513.3 686.7,503.3"/><polygon fill="#fece65" points="745.0,470.0 786.7,470.0 786.7,486.7 781.7,511.7 753.3,520.0 736.7,515.0 730.0,505.0 743.3,495.0 746.7,483.3"/><polygon fill="#fe9929" points="786.7,486.7 806.7,470.0 820.0,508.3 803.3,528.3 795.0,541.7 780.0,531.7 783.3,513.3"/><polygon fill="#e1640e" points="806.7,470.0 870.0,470.0 870.0,516.7 853.3,516.7 825.0,511.7 800.0,498.3"/><polygon fill="#cc4c02" points="816.7,511.7 853.3,515.0 858.3,490.0 870.0,485.0 870.0,520.0 836.7,525.0 828.3,535.0 816.7,533.3"/><polygon fill="#feb642" points="826.7,525.0 870.0,520.0 870.0,573.3 850.0,570.0 845.0,545.0"/><polygon fill="#cc4c02" points="753.3,520.0 785.0,513.3 788.3,536.7 780.0,553.3 770.0,543.3 758.3,526.7"/><polygon fill="#fece65" points="735.0,530.0 736.7,518.3 753.3,520.0 758.3,526.7 770.0,543.3 780.0,553.3 773.3,570.0 753.3,556.7 740.0,545.0"/><polygon fill="#fe9929" points="801.7,530.0 845.0,545.0 850.0,570.0 828.3,580.0 808.3,576.7 806.7,563.3 808.3,553.3 796.7,546.7"/><polygon fill="#ffffe5" points="776.7,555.0 796.7,545.0 808.3,553.3 806.7,563.3 796.7,576.7 785.0,570.0 775.0,560.0"/><polygon fill="#cc4c02" points="846.7,576.7 856.7,568.3 865.0,571.7 860.0,585.0 850.0,586.7"/><polygon fill="#e1640e" points="735.0,565.0 753.3,556.7 773.3,570.0 785.0,570.0 796.7,576.7 780.0,586.7 761.7,598.3 740.0,600.0"/><polygon fill="#feb642" points="758.3,590.0 780.0,580.0 800.0,581.7 801.7,606.7 778.3,605.0 761.7,598.3"/><polygon fill="#feb642" points="798.3,581.7 828.3,580.0 850.0,570.0 870.0,573.3 870.0,616.7 836.7,616.7 803.3,613.3 801.7,606.7"/><polygon fill="#f27e1b" points="828.3,590.0 870.0,586.7 870.0,620.0 836.7,616.7"/><polygon fill="#cc4c02" points="785.0,623.3 806.7,613.3 836.7,616.7 838.3,653.3 820.0,650.0 795.0,640.0 783.3,636.7"/><polygon fill="#aa3c03" points="835.0,616.7 853.3,615.0 870.0,628.3 870.0,666.7 841.7,660.0 836.7,645.0"/><polygon fill="#fee391" points="745.0,606.7 761.7,598.3 778.3,605.0 801.7,606.7 786.7,636.7 778.3,636.7 761.7,641.7 750.0,633.3"/><polygon fill="#cc4c02" points="761.7,641.7 778.3,636.7 795.0,640.0 803.3,645.0 800.0,670.0 778.3,670.0 770.0,661.7"/><polygon fill="#cc4c02" points="620.0,491.7 643.3,501.7 641.7,528.3 631.7,546.7 636.7,570.0 620.0,570.0"/><polygon fill="#fee391" points="631.7,546.7 640.0,528.3 670.0,520.0 686.7,538.3 691.7,553.3 686.7,570.0 670.0,573.3 673.3,586.7 645.0,586.7 636.7,570.0"/><polygon fill="#fffaca" points="673.3,523.3 690.0,525.0 695.0,540.0 686.7,550.0 676.7,543.3"/><polygon fill="#aa3c03" points="670.0,573.3 686.7,570.0 691.7,553.3 706.7,563.3 703.3,580.0 698.3,590.0 703.3,598.3 691.7,606.7 675.0,595.0 673.3,585.0"/><polygon fill="#fffaca" points="696.7,573.3 706.7,566.7 713.3,576.7 726.7,585.0 741.7,585.0 743.3,603.3 746.7,616.7 728.3,616.7 710.0,613.3 698.3,608.3 695.0,590.0 698.3,580.0"/><polygon fill="#fff0ae" points="708.3,556.7 716.7,552.8 726.7,553.3 736.7,560.0 740.0,573.3 741.7,585.0 726.7,585.0 713.3,576.7 710.0,566.7"/><polygon fill="#fffaca" points="671.7,601.7 698.3,598.3 720.0,601.7 745.0,608.3 750.0,633.3 740.0,636.7 723.3,638.3 703.3,628.3 695.0,620.0"/><polygon fill="#d9d9d9" points="620.0,570.0 636.7,568.3 670.0,586.7 673.3,601.7 695.0,620.0 691.7,626.7 678.3,633.3 673.3,643.3 653.3,636.7 636.7,630.0 620.0,615.0"/><polygon fill="#ffffe5" points="666.7,650.0 678.3,633.3 691.7,626.7 696.7,620.0 703.3,628.3 720.0,603.3 736.7,613.3 750.0,625.0 751.7,636.7 743.3,646.7 746.7,670.0 733.3,678.3 723.3,690.0 703.3,693.3 690.0,673.3 670.0,658.3"/><polygon fill="#fffaca" points="620.0,615.0 636.7,630.0 653.3,636.7 673.3,643.3 666.7,650.0 670.0,658.3 690.0,673.3 703.3,693.3 713.3,696.7 706.7,720.0 620.0,720.0"/><polygon fill="#fe9929" points="746.7,636.7 761.7,641.7 770.0,661.7 778.3,670.0 786.7,695.0 778.3,720.0 706.7,720.0 713.3,696.7 723.3,690.0 733.3,678.3 746.7,670.0 743.3,646.7"/><polygon fill="#feb642" points="720.0,680.0 746.7,670.0 770.0,678.3 770.0,711.7 736.7,711.7"/><polygon fill="#e1640e" points="723.3,703.3 750.0,700.0 753.3,720.0 723.3,720.0"/><polygon fill="#feb642" points="778.3,670.0 800.0,670.0 820.0,650.0 838.3,653.3 843.3,686.7 820.0,703.3 786.7,703.3"/><polygon fill="#f27e1b" points="820.0,653.3 870.0,666.7 870.0,720.0 786.7,720.0 786.7,703.3 820.0,703.3 843.3,686.7 838.3,653.3"/><polygon fill="#cc4c02" points="836.7,693.3 870.0,691.7 870.0,720.0 841.7,720.0"/><polygon fill="#fee391" points="833.3,701.7 841.7,700.0 843.3,716.7 835.0,716.7"/><polygon fill="#fff0ae" points="620.0,666.7 630.0,676.7 631.7,720.0 620.0,720.0"/></g>
<g clip-path="url(#kT15)"><polygon fill="#f27e1b" points="820.0,600.0 1070.0,600.0 1070.0,850.0 820.0,850.0"/><polygon fill="#fe9929" points="820.0,650.0 845.0,653.3 845.0,700.0 820.0,700.0"/><polygon fill="#f27e1b" points="820.0,600.0 890.0,600.0 900.0,620.0 870.0,628.3 850.0,630.0 845.0,625.0 853.3,615.0 820.0,616.7"/><polygon fill="#fece65" points="890.0,600.0 906.7,600.0 905.0,616.7 895.0,615.0"/><polygon fill="#cc4c02" points="820.0,618.3 835.0,615.0 853.3,615.0 845.0,625.0 850.0,630.0 870.0,628.3 881.7,640.0 878.3,648.3 868.3,645.0 868.3,666.7 853.3,665.0 836.7,650.0 820.0,648.3"/><polygon fill="#aa3c03" points="835.0,616.7 853.3,613.3 845.0,626.7 868.3,633.3 881.7,640.0 875.0,646.7 868.3,646.7 868.3,666.7 850.0,658.3 836.7,648.3"/><polygon fill="#662506" points="878.3,670.0 886.7,663.3 898.3,666.7 895.0,673.3 883.3,676.7"/><polygon fill="#cc4c02" points="900.0,600.0 1003.3,600.0 1006.7,621.7 986.7,630.0 996.7,648.3 986.7,653.3 961.7,650.0 946.7,650.0 913.3,645.0 900.0,625.0"/><polygon fill="#e1640e" points="948.3,620.0 970.0,616.7 995.0,630.0 993.3,648.3 966.7,650.0 950.0,636.7"/><polygon fill="#aa3c03" points="950.0,600.0 973.3,600.0 970.0,616.7 953.3,615.0"/><polygon fill="#aa3c03" points="988.3,631.7 1003.3,608.3 1023.3,613.3 1030.0,638.3 1020.0,650.0 1011.7,648.3 996.7,648.3"/><polygon fill="#feb642" points="1023.3,608.3 1035.0,608.3 1033.3,625.0 1025.0,621.7"/><polygon fill="#aa3c03" points="1020.0,636.7 1040.0,638.3 1070.0,641.7 1070.0,676.7 1053.3,670.0 1036.7,683.3 1025.0,661.7"/><polygon fill="#662506" points="1053.3,661.7 1066.7,658.3 1070.0,675.0 1056.7,673.3"/><polygon fill="#fe9929" points="1000.0,671.7 1011.7,646.7 1023.3,648.3 1030.0,666.7 1036.7,676.7 1028.3,683.3 1003.3,678.3"/><polygon fill="#882f05" points="1010.0,690.0 1023.3,681.7 1036.7,680.0 1038.3,700.0 1031.7,711.7 1020.0,715.0 1011.7,703.3"/><polygon fill="#882f05" points="1033.3,706.7 1053.3,696.7 1070.0,706.7 1070.0,723.3 1050.0,720.0 1036.7,716.7"/><polygon fill="#cc4c02" points="1028.3,716.7 1050.0,720.0 1070.0,725.0 1070.0,756.7 1056.7,766.7 1036.7,756.7 1023.3,741.7"/><polygon fill="#fff0ae" points="1060.0,726.7 1070.0,725.0 1070.0,750.0 1061.7,746.7"/><polygon fill="#fee391" points="1028.3,750.0 1038.3,746.7 1043.3,760.0 1035.0,765.0"/><polygon fill="#cc4c02" points="908.3,708.3 920.0,700.0 921.7,673.3 940.0,673.3 961.7,680.0 966.7,700.0 986.7,693.3 1011.7,690.0 1013.3,710.0 1003.3,716.7 970.0,716.7 928.3,716.7"/><polygon fill="#aa3c03" points="940.0,650.0 961.7,650.0 978.3,670.0 970.0,676.7 963.3,700.0 936.7,696.7 921.7,683.3 923.3,670.0 940.0,670.0"/><polygon fill="#fffaca" points="980.0,698.3 986.7,695.0 991.7,706.7 981.7,710.0"/><polygon fill="#f27e1b" points="841.7,700.0 845.0,680.0 870.0,673.3 881.7,680.0 878.3,688.3 895.0,676.7 913.3,646.7 946.7,650.0 940.0,671.7 921.7,673.3 920.0,700.0 908.3,708.3 891.7,708.3 870.0,716.7 845.0,716.7"/><polygon fill="#fee391" points="833.3,703.3 843.3,698.3 845.0,716.7 861.7,726.7 863.3,766.7 853.3,780.0 830.0,776.7 828.3,750.0"/><polygon fill="#e1640e" points="870.0,716.7 891.7,708.3 928.3,716.7 961.7,716.7 970.0,743.3 966.7,756.7 936.7,746.7 916.7,750.0 896.7,755.0 895.0,745.0 903.3,731.7 881.7,733.3"/><polygon fill="#fece65" points="861.7,726.7 870.0,720.0 881.7,733.3 900.0,738.3 896.7,755.0 886.7,766.7 866.7,765.0"/><polygon fill="#fee391" points="866.7,765.0 886.7,766.7 896.7,756.7 900.0,808.3 870.0,808.3"/><polygon fill="#e1640e" points="825.0,783.3 853.3,776.7 866.7,783.3 865.0,816.7 850.0,826.7 830.0,816.7"/><polygon fill="#fffaca" points="820.0,815.0 836.7,830.0 858.3,821.7 878.3,816.7 878.3,850.0 820.0,850.0"/><polygon fill="#fee391" points="870.0,806.7 903.3,805.0 906.7,850.0 875.0,850.0"/><polygon fill="#f27e1b" points="896.7,756.7 916.7,750.0 936.7,746.7 966.7,756.7 970.0,783.3 966.7,825.0 940.0,830.0 928.3,850.0 900.0,850.0 895.0,800.0 876.7,800.0 878.3,775.0 890.0,766.7"/><polygon fill="#fe9929" points="916.7,750.0 936.7,746.7 966.7,756.7 965.0,775.0 923.3,775.0"/><polygon fill="#e1640e" points="918.3,775.0 965.0,775.0 966.7,825.0 940.0,830.0 920.0,816.7"/><polygon fill="#882f05" points="958.3,765.0 970.0,763.3 973.3,783.3 963.3,786.7"/><polygon fill="#f27e1b" points="966.7,716.7 1003.3,716.7 1026.7,713.3 1026.7,766.7 1003.3,766.7 986.7,763.3 970.0,763.3"/><polygon fill="#feb642" points="1001.7,735.0 1020.0,733.3 1025.0,753.3 1006.7,753.3"/><polygon fill="#cc4c02" points="970.0,743.3 986.7,740.0 1008.3,750.0 1008.3,775.0 986.7,775.0 970.0,763.3"/><polygon fill="#aa3c03" points="966.7,775.0 986.7,763.3 1003.3,766.7 1006.7,783.3 1025.0,800.0 1010.0,833.3 1003.3,850.0 970.0,850.0 966.7,825.0"/><polygon fill="#fece65" points="1011.7,800.0 1036.7,766.7 1070.0,758.3 1070.0,816.7 1053.3,833.3 1020.0,841.7 1011.7,825.0"/><polygon fill="#fff0ae" points="1035.0,768.3 1070.0,760.0 1070.0,796.7 1045.0,791.7"/><polygon fill="#f27e1b" points="1050.0,820.0 1070.0,816.7 1070.0,850.0 1048.3,850.0"/><polygon fill="#e1640e" points="900.0,831.7 940.0,830.0 970.0,833.3 970.0,850.0 900.0,850.0"/></g>
<g clip-path="url(#kT16)"><polygon fill="#e1640e" points="960.0,560.0 1200.0,560.0 1200.0,800.0 960.0,800.0"/><polygon fill="#f27e1b" points="960.0,560.0 988.8,560.0 987.2,579.2 998.4,592.0 988.8,601.6 960.0,601.6"/><polygon fill="#feb642" points="968.0,560.0 984.0,560.0 982.4,569.6 969.6,569.6"/><polygon fill="#cc4c02" points="988.8,560.0 1104.0,560.0 1084.8,584.0 1072.0,592.0 1059.2,596.8 1040.0,595.2 1020.8,588.8 1001.6,593.6 987.2,579.2"/><polygon fill="#aa3c03" points="1072.0,560.0 1096.0,560.0 1094.4,574.4 1075.2,572.8"/><polygon fill="#cc4c02" points="960.0,600.0 976.0,601.6 1001.6,608.0 998.4,627.2 988.8,632.0 995.2,646.4 960.0,649.6"/><polygon fill="#aa3c03" points="960.0,649.6 980.8,656.0 979.2,672.0 969.6,675.2 969.6,704.0 960.0,704.0"/><polygon fill="#aa3c03" points="996.8,608.0 1008.0,608.0 1020.8,620.8 1032.0,627.2 1024.0,636.8 1008.0,646.4 995.2,646.4 988.8,632.0 998.4,627.2"/><polygon fill="#fece65" points="1024.0,608.0 1032.0,606.4 1033.6,625.6 1025.6,624.0"/><polygon fill="#e1640e" points="1024.0,588.8 1040.0,595.2 1059.2,596.8 1062.4,616.0 1056.0,632.0 1040.0,640.0 1024.0,636.8 1032.0,627.2 1020.8,620.8"/><polygon fill="#aa3c03" points="1064.0,606.4 1091.2,606.4 1092.8,624.0 1083.2,643.2 1064.0,640.0 1062.4,627.2"/><polygon fill="#cc4c02" points="1086.4,582.4 1110.4,601.6 1123.2,643.2 1096.0,643.2 1092.8,624.0 1091.2,606.4 1084.8,592.0"/><polygon fill="#feb642" points="1080.0,654.4 1099.2,652.8 1100.8,667.2 1083.2,668.8"/><polygon fill="#fe9929" points="1100.8,660.8 1129.6,659.2 1129.6,688.0 1104.0,686.4"/><polygon fill="#feb642" points="1108.8,686.4 1126.4,686.4 1126.4,700.8 1110.4,700.8"/><polygon fill="#882f05" points="1020.8,635.2 1030.4,636.8 1038.4,643.2 1036.8,662.4 1027.2,662.4 1022.4,649.6"/><polygon fill="#fe9929" points="1000.0,672.0 1011.2,646.4 1020.8,649.6 1027.2,662.4 1036.8,662.4 1040.0,672.0 1032.0,683.2 1012.8,684.8"/><polygon fill="#aa3c03" points="1038.4,643.2 1062.4,640.0 1076.8,649.6 1072.0,664.0 1078.4,678.4 1059.2,694.4 1036.8,704.0 1035.2,681.6 1040.0,672.0 1036.8,662.4"/><polygon fill="#662506" points="1056.0,662.4 1065.6,660.8 1076.8,670.4 1072.0,675.2 1059.2,673.6"/><polygon fill="#882f05" points="1008.0,691.2 1024.0,681.6 1035.2,681.6 1036.8,704.0 1027.2,712.0 1017.6,716.8 1011.2,707.2"/><polygon fill="#882f05" points="1040.0,704.0 1059.2,697.6 1076.8,708.8 1072.0,720.0 1060.8,724.8 1046.4,720.0"/><polygon fill="#cc4c02" points="960.0,704.0 969.6,704.0 979.2,675.2 1000.0,675.2 1011.2,691.2 1014.4,712.0 998.4,732.8 960.0,732.8"/><polygon fill="#fee391" points="979.2,696.0 987.2,694.4 992.0,707.2 980.8,708.8"/><polygon fill="#f27e1b" points="1057.6,692.8 1080.0,678.4 1096.0,681.6 1112.0,688.0 1110.4,704.0 1097.6,720.0 1072.0,726.4 1062.4,720.0 1072.0,704.0"/><polygon fill="#cc4c02" points="1097.6,716.8 1116.8,700.8 1136.0,704.0 1148.8,716.8 1147.2,734.4 1137.6,736.0 1116.8,728.0 1100.8,726.4"/><polygon fill="#aa3c03" points="1086.4,726.4 1100.8,720.0 1118.4,728.0 1116.8,739.2 1096.0,747.2"/><polygon fill="#fe9929" points="1104.0,744.0 1120.0,736.0 1139.2,736.0 1140.8,758.4 1129.6,772.8 1110.4,780.8 1100.8,768.0"/><polygon fill="#f27e1b" points="960.0,732.8 998.4,732.8 1014.4,712.0 1030.4,718.4 1032.0,760.0 1020.8,800.0 960.0,800.0"/><polygon fill="#feb642" points="1000.0,734.4 1020.8,732.8 1024.0,755.2 1001.6,753.6"/><polygon fill="#fff0ae" points="1028.8,748.8 1040.0,747.2 1043.2,761.6 1032.0,763.2"/><polygon fill="#aa3c03" points="964.8,761.6 1000.0,760.0 1019.2,776.0 1017.6,800.0 964.8,800.0"/><polygon fill="#882f05" points="960.0,764.8 969.6,766.4 971.2,780.8 960.0,782.4"/><polygon fill="#e1640e" points="1030.4,718.4 1046.4,720.0 1060.8,724.8 1065.6,764.8 1036.8,768.0 1032.0,760.0"/><polygon fill="#fee391" points="1059.2,729.6 1072.0,724.8 1086.4,731.2 1088.0,748.8 1072.0,755.2 1064.0,745.6"/><polygon fill="#fece65" points="1072.0,755.2 1088.0,748.8 1100.8,748.8 1112.0,752.0 1110.4,772.8 1081.6,776.0"/><polygon fill="#fff0ae" points="1036.8,768.0 1056.0,756.8 1072.0,755.2 1078.4,772.8 1081.6,800.0 1036.8,800.0"/><polygon fill="#f27e1b" points="1081.6,776.0 1110.4,772.8 1120.0,784.0 1120.0,800.0 1081.6,800.0"/></g>
<g clip-path="url(#kL1)"></g>
<g clip-path="url(#kL2)"></g>
<g clip-path="url(#kL3)"></g>
<g clip-path="url(#kL4)"></g>
<g clip-path="url(#kL5)"></g>
<g clip-path="url(#kL6)"></g>
<g clip-path="url(#kL7)"></g></g>
<path d="M1137.0,830.0 L1148.0,838.0 L1144.0,846.0 L1142.0,860.0 L1138.0,872.0 L1134.0,890.0 L1128.0,898.0 L1122.0,908.0 L1121.0,918.0 L1118.0,912.0 L1114.0,904.0 L1106.0,896.0 L1103.0,886.0 L1105.0,872.0 L1112.0,856.0 L1122.0,840.0 L1126.0,834.0Z" fill="#f27e1b"/><path d="M867.0,966.0 L894.0,963.0 L899.0,965.0 L902.0,976.0 L896.0,980.0 L892.0,988.0 L890.0,1000.0 L880.0,1006.0 L872.0,1013.0 L860.0,1010.0 L848.0,1006.0 L847.0,984.0 L860.0,969.0Z" fill="#fece65"/>
<polyline clip-path="url(#kT8)" fill="none" stroke="#59626b" stroke-width="1" points="1165.0,849.0 1158.0,878.0"/>
<polyline clip-path="url(#kT8)" fill="none" stroke="#59626b" stroke-width="1" points="1145.0,923.0 1128.0,946.0"/>
<polyline clip-path="url(#kT11)" fill="none" stroke="#59626b" stroke-width="1" points="178.0,598.0 200.0,596.0 204.0,584.0 212.0,574.0 238.0,577.0 250.0,572.0 260.0,566.0 270.0,566.0 274.0,572.0 290.0,574.0 306.0,568.0 320.0,564.0 334.0,563.0 342.0,560.0 346.0,554.0 370.0,548.0 390.0,546.0 406.0,550.0 420.0,556.0 430.0,552.0 450.0,556.0 470.0,554.0"/>
<polyline clip-path="url(#kT11)" fill="none" stroke="#59626b" stroke-width="1" points="416.0,556.0 422.0,560.0 418.0,576.0 420.0,584.0 426.0,588.0"/>
<polyline clip-path="url(#lT15)" fill="none" stroke="#59626b" stroke-width="1" points="820.0,648.3 836.7,651.7 843.3,658.3 845.0,670.0 836.7,678.3 825.0,690.0 820.0,693.3"/>
<polyline clip-path="url(#lT15)" fill="none" stroke="#59626b" stroke-width="1" points="868.3,645.0 868.3,666.7 878.3,673.3 881.7,680.0 880.0,690.0 866.7,693.3 843.3,700.0 845.0,716.7 855.0,726.7 861.7,731.7 863.3,750.0 865.0,766.7 863.3,776.7 853.3,783.3 866.7,785.0 866.7,800.0 870.0,813.3 858.3,821.7 836.7,833.3 820.0,830.0"/>
<polyline clip-path="url(#lT15)" fill="none" stroke="#59626b" stroke-width="1" points="900.0,600.0 900.0,626.7 913.3,645.0 936.7,650.0 961.7,650.0 965.0,663.3 980.0,670.0 995.0,676.7 1011.7,686.7 1008.3,696.7 1016.7,715.0 1028.3,713.3 1036.7,716.7"/>
<polyline clip-path="url(#lT15)" fill="none" stroke="#59626b" stroke-width="1" points="1003.3,606.7 988.3,631.7 996.7,648.3 1010.0,646.7"/>
<polyline clip-path="url(#lT15)" fill="none" stroke="#59626b" stroke-width="1" points="888.3,710.0 913.3,710.0 930.0,720.0 945.0,716.7 958.3,715.0 963.3,733.3 971.7,743.3 970.0,763.3 963.3,766.7 965.0,783.3 966.7,816.7 970.0,833.3 973.3,850.0"/>
<polyline clip-path="url(#lT15)" fill="none" stroke="#59626b" stroke-width="1" points="966.7,733.3 986.7,726.7 1003.3,716.7 1026.7,713.3"/>
<polyline clip-path="url(#kT16)" fill="none" stroke="#59626b" stroke-width="1" points="987.2,579.2 1001.6,593.6 1020.8,588.8 1033.6,595.2 1040.0,596.8 1059.2,593.6 1072.0,592.0 1084.8,584.0 1086.4,580.8"/>
<polyline clip-path="url(#kT16)" fill="none" stroke="#59626b" stroke-width="1" points="1062.4,614.4 1059.2,627.2 1065.6,638.4 1075.2,638.4 1083.2,643.2 1075.2,649.6 1067.2,659.2 1072.0,668.8 1075.2,678.4 1096.0,681.6 1113.6,688.0 1123.2,684.8 1129.6,675.2 1139.2,673.6"/>
<polyline clip-path="url(#kT16)" fill="none" stroke="#59626b" stroke-width="1" points="1092.8,681.6 1091.2,696.0 1086.4,704.0 1076.8,708.8 1064.0,723.2 1059.2,729.6 1068.8,755.2 1075.2,756.8 1078.4,776.0 1088.0,776.0 1092.8,771.2 1097.6,779.2 1110.4,780.8"/>
<polyline clip-path="url(#kT16)" fill="none" stroke="#59626b" stroke-width="1" points="960.0,649.6 976.0,664.0 1000.0,672.0 1008.0,684.8 1011.2,691.2 1014.4,712.0 1027.2,720.0 1036.8,713.6 1049.6,713.6 1059.2,724.8"/>
<polyline clip-path="url(#kT16)" fill="none" stroke="#59626b" stroke-width="1" points="960.0,729.6 982.4,723.2 1004.8,715.2 1027.2,720.0"/>
<polyline clip-path="url(#kT16)" fill="none" stroke="#59626b" stroke-width="1" points="987.2,579.2 988.8,608.0 987.2,630.4 995.2,646.4 1001.6,672.0"/>
<polyline clip-path="url(#kL1)" fill="none" stroke="#59626b" stroke-width="1" points="572.0,385.3 565.3,389.3 568.0,400.0 560.0,409.3 545.3,412.0 525.3,422.7 514.7,432.0 494.7,440.0 489.3,461.3 482.7,477.3 432.0,494.7"/>
<polyline clip-path="url(#kL1)" fill="none" stroke="#59626b" stroke-width="1" points="482.7,477.3 501.3,478.7 501.3,484.0 514.7,486.7 528.0,496.0 549.3,498.7 568.0,501.3 570.7,496.0 586.7,493.3 586.7,477.3 597.3,480.0 613.3,485.3 626.7,493.3 648.0,496.0 656.0,501.3 669.3,509.3 693.3,517.3 709.3,528.0 720.0,546.7 714.7,562.7 706.7,570.7 701.3,589.3 704.0,600.0 693.3,616.0"/>
<polyline clip-path="url(#kL1)" fill="none" stroke="#59626b" stroke-width="1" points="590.7,385.3 605.3,416.0 618.7,432.0 640.0,433.3 656.0,433.3 658.7,445.3 640.0,458.7 648.0,466.7 666.7,474.7 677.3,488.0 688.0,490.7 698.7,480.0 720.0,472.0 744.0,469.3 746.7,480.0 730.7,498.7 733.3,509.3 752.0,520.0 768.0,520.0 786.7,514.7"/>
<polyline clip-path="url(#kL1)" fill="none" stroke="#59626b" stroke-width="1" points="594.7,610.7 602.7,605.3 613.3,605.3 621.3,613.3 626.7,626.7 640.0,637.3 650.7,634.7 656.0,642.7 666.7,642.7 680.0,637.3 693.3,626.7 693.3,616.0 706.7,605.3 717.3,602.7 725.3,610.7 741.3,616.0 749.3,624.0 752.0,634.7"/>
<polyline clip-path="url(#kL1)" fill="none" stroke="#59626b" stroke-width="1" points="400.0,548.0 416.0,552.0 429.3,550.7 453.3,556.0"/>
<polyline clip-path="url(#kL1)" fill="none" stroke="#59626b" stroke-width="1" points="416.0,554.7 418.7,573.3 417.3,581.3 424.0,586.7"/>
<polyline clip-path="url(#kL1)" fill="none" stroke="#59626b" stroke-width="1" points="472.0,637.3 488.0,640.0 506.7,644.0 525.3,646.7 538.7,650.7 549.3,658.7 560.0,666.7 573.3,664.0 586.7,656.0 594.7,645.3 597.3,626.7 594.7,610.7"/>
<polyline clip-path="url(#kL1)" fill="none" stroke="#59626b" stroke-width="1" points="594.7,645.3 608.0,648.0 618.7,658.7 626.7,677.3 629.3,701.3 632.0,733.3 632.0,760.0"/>
<polyline clip-path="url(#kL2)" fill="none" stroke="#59626b" stroke-width="1" points="804.0,471.0 792.0,478.0 786.0,492.0 784.0,508.0 780.0,514.0"/>
<polyline clip-path="url(#kL2)" fill="none" stroke="#59626b" stroke-width="1" points="799.0,498.0 818.0,508.0 838.0,516.0 850.0,510.0 856.0,496.0 870.0,482.0 882.0,472.0 900.0,468.0 910.0,464.0 920.0,460.0 932.0,448.0 946.0,446.0 960.0,442.0 970.0,438.0 966.0,424.0 972.0,410.0 984.0,402.0 988.0,412.0 1000.0,414.0 1014.0,406.0 1030.0,394.0 1052.0,389.0 1064.0,404.0 1064.0,420.0 1080.0,424.0"/>
<polyline clip-path="url(#kL2)" fill="none" stroke="#59626b" stroke-width="1" points="902.0,468.0 892.0,492.0 890.0,510.0 894.0,520.0 888.0,532.0 888.0,556.0 890.0,570.0 884.0,588.0 898.0,610.0 900.0,630.0"/>
<polyline clip-path="url(#kL2)" fill="none" stroke="#59626b" stroke-width="1" points="884.0,588.0 904.0,586.0 920.0,580.0 936.0,572.0 952.0,568.0 960.0,550.0 956.0,540.0 968.0,524.0 966.0,500.0 960.0,486.0 972.0,476.0 980.0,466.0 970.0,454.0 980.0,440.0 970.0,438.0"/>
<polyline clip-path="url(#kL2)" fill="none" stroke="#59626b" stroke-width="1" points="956.0,540.0 980.0,552.0 990.0,556.0 998.0,546.0 1010.0,524.0 1026.0,512.0 1048.0,500.0 1060.0,494.0"/>
<polyline clip-path="url(#kL2)" fill="none" stroke="#59626b" stroke-width="1" points="1000.0,456.0 1006.0,442.0 1020.0,434.0 1034.0,428.0 1040.0,440.0 1046.0,456.0 1040.0,464.0 1034.0,468.0 1030.0,482.0 1044.0,492.0"/>
<polyline clip-path="url(#kL2)" fill="none" stroke="#59626b" stroke-width="1" points="998.0,566.0 1014.0,556.0"/>
<polyline clip-path="url(#kL2)" fill="none" stroke="#59626b" stroke-width="1" points="988.0,580.0 1002.0,592.0 1020.0,588.0 1026.0,596.0 1042.0,598.0 1060.0,594.0 1080.0,592.0"/>
<polyline clip-path="url(#kL2)" fill="none" stroke="#59626b" stroke-width="1" points="988.0,580.0 1000.0,600.0 998.0,628.0 990.0,634.0 996.0,644.0 1010.0,644.0 1020.0,652.0 1026.0,664.0 1040.0,680.0"/>
<polyline clip-path="url(#kL2)" fill="none" stroke="#59626b" stroke-width="1" points="900.0,630.0 920.0,646.0 940.0,650.0 960.0,650.0 970.0,664.0 980.0,670.0 996.0,680.0"/>
<polyline clip-path="url(#kL3)" fill="none" stroke="#59626b" stroke-width="1" points="1218.0,220.0 1205.0,229.0 1204.0,248.0 1198.0,239.0 1184.0,252.0 1160.0,268.0 1168.0,280.0 1171.0,294.0 1164.0,306.0 1144.0,304.0 1150.0,316.0 1152.0,346.0 1172.0,342.0 1180.0,360.0 1186.0,368.0 1174.0,380.0 1154.0,386.0 1128.0,396.0 1106.0,412.0 1092.0,396.0 1086.0,406.0 1080.0,422.0"/>
<polyline clip-path="url(#kL3)" fill="none" stroke="#59626b" stroke-width="1" points="1188.0,294.0 1200.0,316.0 1228.0,316.0 1244.0,324.0 1258.0,324.0 1262.0,338.0 1274.0,342.0 1278.0,352.0 1290.0,340.0 1300.0,364.0 1310.0,360.0 1334.0,354.0 1338.0,366.0 1356.0,368.0"/>
<polyline clip-path="url(#kL3)" fill="none" stroke="#59626b" stroke-width="1" points="1186.0,368.0 1202.0,380.0 1212.0,376.0 1220.0,398.0 1228.0,430.0"/>
<polyline clip-path="url(#kL4)" fill="none" stroke="#59626b" stroke-width="1" points="622.0,680.0 630.0,692.0 632.0,730.0 632.0,740.0 638.0,756.0 646.0,742.0 658.0,764.0 668.0,764.0 680.0,784.0 688.0,800.0 696.0,812.0 712.0,806.0 722.0,800.0 720.0,778.0 732.0,764.0 740.0,746.0 750.0,746.0 752.0,760.0 764.0,762.0 772.0,768.0 770.0,778.0 752.0,776.0 738.0,784.0 736.0,792.0 752.0,798.0 758.0,804.0 752.0,820.0 760.0,832.0 756.0,846.0 770.0,856.0 776.0,862.0 792.0,866.0"/>
<polyline clip-path="url(#kL4)" fill="none" stroke="#59626b" stroke-width="1" points="756.0,846.0 770.0,840.0 790.0,846.0 798.0,836.0 812.0,828.0 818.0,824.0 828.0,834.0 840.0,828.0 854.0,822.0 866.0,812.0 880.0,808.0 900.0,804.0"/>
<polyline clip-path="url(#kL4)" fill="none" stroke="#59626b" stroke-width="1" points="866.0,812.0 862.0,792.0 866.0,774.0 862.0,756.0 860.0,734.0 848.0,732.0 842.0,716.0 846.0,700.0 868.0,692.0 880.0,690.0 900.0,680.0"/>
<polyline clip-path="url(#kL5)" fill="none" stroke="#59626b" stroke-width="1" points="880.0,718.0 890.0,708.0 908.0,712.0 930.0,720.0 942.0,718.0 958.0,716.0 960.0,730.0 970.0,740.0 972.0,754.0 964.0,764.0 964.0,780.0 968.0,800.0 966.0,820.0 968.0,830.0 944.0,828.0 932.0,836.0 924.0,840.0 912.0,844.0 900.0,838.0 910.0,818.0 904.0,804.0 880.0,810.0"/>
<polyline clip-path="url(#kL5)" fill="none" stroke="#59626b" stroke-width="1" points="966.0,830.0 972.0,848.0 1008.0,846.0 1010.0,840.0 1022.0,842.0 1032.0,852.0 1034.0,866.0 1038.0,876.0"/>
<polyline clip-path="url(#kL5)" fill="none" stroke="#59626b" stroke-width="1" points="1010.0,840.0 1018.0,816.0 1024.0,800.0 1028.0,790.0 1038.0,782.0 1040.0,764.0 1060.0,760.0 1072.0,756.0 1078.0,776.0 1092.0,772.0 1102.0,778.0 1110.0,780.0"/>
<polyline clip-path="url(#kL5)" fill="none" stroke="#59626b" stroke-width="1" points="1072.0,756.0 1064.0,732.0 1072.0,720.0 1078.0,700.0"/>
<polyline clip-path="url(#kL5)" fill="none" stroke="#59626b" stroke-width="1" points="958.0,716.0 970.0,730.0 1000.0,718.0 1028.0,712.0 1040.0,716.0 1068.0,708.0 1078.0,700.0"/>
<polyline clip-path="url(#kL5)" fill="none" stroke="#59626b" stroke-width="1" points="880.0,916.0 890.0,910.0 896.0,900.0 906.0,886.0 912.0,874.0 922.0,856.0 924.0,840.0"/>
<polyline clip-path="url(#kL6)" fill="none" stroke="#59626b" stroke-width="1" points="671.2,601.6 680.8,614.4 692.0,617.6 695.2,624.0 688.8,627.2 680.8,628.8 677.6,640.0 660.0,643.2"/>
<polyline clip-path="url(#kL6)" fill="none" stroke="#59626b" stroke-width="1" points="703.2,608.0 720.8,601.6 727.2,614.4 740.0,617.6 749.6,624.0 751.2,635.2 759.2,643.2 775.2,641.6 784.8,638.4 792.8,643.2 804.0,641.6 813.6,646.4 820.0,649.6 829.6,652.8 839.2,656.0 844.0,659.2 864.8,664.0 880.8,672.0"/>
<polyline clip-path="url(#kL6)" fill="none" stroke="#59626b" stroke-width="1" points="844.0,560.0 845.6,574.4 826.4,577.6 810.4,584.0 799.2,580.8 796.0,595.2 800.8,601.6 799.2,614.4 784.8,620.8 783.2,628.8 786.4,638.4"/>
<polyline clip-path="url(#kL6)" fill="none" stroke="#59626b" stroke-width="1" points="842.4,659.2 842.4,672.0 831.2,684.8 821.6,691.2 818.4,700.8 810.4,708.8 799.2,704.0 784.8,700.8 780.0,707.2 773.6,721.6 781.6,729.6 788.0,740.8 799.2,748.8 781.6,748.8 781.6,756.8 794.4,764.8 800.8,768.0"/>
<polyline clip-path="url(#kL6)" fill="none" stroke="#59626b" stroke-width="1" points="820.0,732.8 836.0,734.4 844.0,748.8 852.0,752.0 863.2,745.6"/>
<polyline clip-path="url(#kL6)" fill="none" stroke="#59626b" stroke-width="1" points="800.8,768.0 781.6,766.4 772.0,763.2 764.0,760.0 752.8,752.0 746.4,745.6 740.0,747.2 733.6,760.0 720.8,776.0 717.6,800.0"/>
<polyline clip-path="url(#kL6)" fill="none" stroke="#59626b" stroke-width="1" points="660.0,766.4 669.6,764.8 679.2,780.8 685.6,800.0"/>
<polyline clip-path="url(#kL6)" fill="none" stroke="#59626b" stroke-width="1" points="890.4,560.0 888.8,584.0 887.2,600.0 900.0,612.8"/>
<polyline clip-path="url(#kL7)" fill="none" stroke="#59626b" stroke-width="1" points="1142.0,116.0 1138.0,122.0 1130.0,134.0 1140.0,142.0 1150.0,137.0 1164.0,144.0 1168.0,166.0 1180.0,168.0 1200.0,166.0 1216.0,160.0 1238.0,174.0"/>
<polyline clip-path="url(#kL7)" fill="none" stroke="#59626b" stroke-width="1" points="1238.0,174.0 1230.0,184.0 1220.0,200.0 1218.0,216.0 1210.0,224.0 1202.0,248.0 1198.0,238.0 1176.0,254.0 1158.0,268.0"/>
<path d="M190.0,410.0 L203.0,403.0 L210.0,398.0 L209.0,386.0 L216.0,376.0 L222.0,374.0 L220.0,362.0 L214.0,340.0 L213.0,336.0 L203.0,331.0 L204.0,328.0 L216.0,325.0 L244.0,319.0 L250.0,322.0 L262.0,322.0 L256.0,315.0 L258.0,304.0 L271.0,276.0 L273.0,271.0 L286.0,276.0 L310.0,277.0 L316.0,280.0 L322.0,275.6 L332.0,275.0 L330.0,248.0 L333.0,241.0 L348.0,239.0 L356.0,234.0 L356.0,225.0 L360.0,222.0 L380.0,221.0 L382.0,227.0 L385.0,234.0 L398.0,246.0 L418.0,251.0 L430.0,255.0 L438.0,260.0 L450.0,278.0 L453.0,288.0 L450.0,298.0 L451.0,302.0 L446.0,308.0 L444.0,316.0 L448.0,322.0 L462.0,326.0 L490.0,327.0 L510.0,330.0 L524.0,337.0 L538.0,345.0 L550.0,347.0 L549.0,352.0 L554.0,355.0 L560.0,368.0 L566.0,378.0 L572.0,385.0 L590.0,384.0 L606.7,386.7 L641.3,389.3 L665.3,386.7 L678.7,389.3 L694.7,393.3 L702.7,400.0 L713.3,401.3 L726.7,405.3 L733.3,408.0 L754.7,408.0 L756.0,413.0 L766.0,415.0 L770.0,412.0 L786.0,404.0 L804.0,397.0 L820.0,393.0 L834.0,394.0 L852.0,393.0 L868.0,392.0 L874.0,388.0 L882.0,387.0 L892.0,379.0 L900.0,371.0 L908.0,367.0 L916.0,364.0 L922.0,360.0 L916.0,352.0 L910.0,344.0 L914.0,332.0 L922.0,325.0 L932.0,327.0 L940.0,332.0 L958.0,334.0 L970.0,328.0 L984.0,316.0 L996.0,318.0 L1006.0,316.0 L1018.0,309.0 L1020.0,300.0 L1030.0,292.0 L1044.0,288.0 L1060.0,284.0 L1078.0,283.0 L1088.0,286.0 L1100.0,285.0 L1096.0,270.0 L1084.0,260.0 L1070.0,252.0 L1054.0,251.0 L1044.0,259.0 L1026.0,256.0 L1012.0,258.0 L1003.0,248.0 L1009.0,238.0 L1014.0,228.0 L1028.0,204.0 L1054.0,211.0 L1070.0,202.0 L1086.0,198.0 L1084.0,188.0 L1096.0,172.0 L1104.0,158.0 L1120.0,146.0 L1116.0,136.0 L1104.0,134.0 L1104.0,128.0 L1120.0,117.0 L1140.0,113.0 L1176.0,109.0 L1192.0,112.0 L1212.0,119.0 L1228.0,122.0 L1240.0,132.0 L1246.0,144.0 L1250.0,154.0 L1258.0,168.0 L1260.0,176.0 L1268.0,184.0 L1272.0,194.0 L1270.0,194.0 L1272.0,204.0 L1278.0,210.0 L1290.0,210.0 L1308.0,215.0 L1320.0,218.0 L1336.0,228.0 L1342.0,230.0 L1344.0,240.0 L1342.0,248.0 L1350.0,258.0 L1366.0,259.0 L1380.0,258.0 L1386.0,252.0 L1394.0,248.0 L1410.0,243.0 L1430.0,241.0 L1441.0,240.0 L1430.0,246.0 L1432.0,258.0 L1422.0,266.0 L1420.0,276.0 L1414.0,288.0 L1410.0,300.0 L1404.0,312.0 L1396.0,320.0 L1394.0,327.0 L1370.0,320.0 L1358.0,326.0 L1350.0,330.0 L1352.0,340.0 L1354.0,354.0 L1356.0,368.0 L1350.0,378.0 L1338.0,382.0 L1340.0,392.0 L1336.0,390.0 L1330.0,382.0 L1320.0,386.0 L1318.0,394.0 L1306.0,402.0 L1286.0,404.0 L1290.0,416.0 L1282.0,420.0 L1268.0,416.0 L1258.0,412.0 L1250.0,418.0 L1230.0,434.0 L1220.0,440.0 L1200.0,452.0 L1190.0,460.0 L1179.4,461.8 L1166.4,466.0 L1154.8,474.6 L1145.2,481.0 L1136.6,483.2 L1127.0,487.4 L1127.0,483.2 L1136.6,478.8 L1139.8,473.6 L1137.6,471.4 L1130.2,468.2 L1135.6,461.8 L1147.2,453.2 L1152.6,442.6 L1146.2,435.2 L1142.0,433.0 L1126.0,434.0 L1120.6,440.4 L1113.2,450.0 L1099.2,455.4 L1087.6,462.8 L1085.4,472.4 L1078.0,477.8 L1070.4,482.0 L1062.0,478.8 L1055.6,476.8 L1050.2,487.4 L1051.2,496.0 L1056.6,499.2 L1067.2,503.4 L1073.6,502.4 L1080.0,506.6 L1085.4,512.0 L1079.0,516.2 L1080.0,522.6 L1089.6,529.0 L1097.2,526.8 L1100.4,519.4 L1108.8,514.0 L1120.6,510.8 L1128.0,514.0 L1137.6,518.4 L1149.4,518.4 L1162.2,521.6 L1160.0,525.8 L1156.8,535.4 L1147.2,534.4 L1136.6,539.6 L1123.8,545.0 L1117.4,551.4 L1106.6,553.6 L1100.0,566.0 L1092.0,574.0 L1086.0,580.0 L1086.0,586.0 L1096.0,594.0 L1108.0,600.0 L1114.0,616.0 L1120.0,630.0 L1124.0,642.0 L1136.0,650.0 L1144.0,660.0 L1148.0,670.0 L1150.0,678.0 L1144.0,680.0 L1146.0,680.0 L1148.0,692.0 L1130.0,694.0 L1126.0,698.0 L1138.0,702.0 L1144.0,710.0 L1150.0,714.0 L1146.0,722.0 L1148.0,732.0 L1142.0,738.0 L1140.0,748.0 L1134.0,760.0 L1126.0,766.0 L1120.0,772.0 L1114.0,780.0 L1110.0,788.0 L1102.0,796.0 L1100.0,804.0 L1098.0,820.0 L1090.0,828.0 L1080.0,834.0 L1074.0,844.0 L1064.0,852.0 L1056.0,860.0 L1046.0,870.0 L1036.0,876.0 L1026.0,888.0 L1010.0,894.0 L990.0,896.0 L980.0,900.0 L982.0,900.0 L974.0,908.0 L960.0,904.0 L952.0,916.0 L940.0,924.0 L928.0,924.0 L920.0,926.0 L912.0,928.0 L896.0,932.0 L890.0,936.0 L884.0,940.0 L888.0,948.0 L890.0,956.0 L882.0,960.0 L876.0,960.0 L871.0,952.0 L871.0,940.0 L874.0,932.0 L872.0,928.0 L860.0,930.0 L854.0,924.0 L850.0,926.0 L840.0,928.0 L824.0,924.0 L816.0,922.0 L806.0,916.0 L802.0,904.0 L800.0,896.0 L806.0,894.0 L796.0,888.0 L784.0,890.0 L778.0,884.0 L776.0,880.0 L766.0,884.0 L760.0,890.0 L750.0,892.0 L744.0,902.0 L730.0,896.0 L720.0,904.0 L710.0,896.0 L690.0,904.0 L690.0,916.0 L694.0,936.0 L682.0,934.0 L680.0,922.0 L658.0,928.0 L654.0,918.0 L636.0,910.0 L642.0,890.0 L630.0,886.0 L628.0,876.0 L626.0,862.0 L610.0,862.0 L600.0,866.0 L602.0,856.0 L599.0,846.0 L604.0,832.0 L614.0,824.0 L624.0,810.0 L626.0,796.0 L624.0,774.0 L616.0,772.0 L614.0,764.0 L610.0,754.0 L600.0,750.0 L594.0,760.0 L588.0,768.0 L574.0,762.0 L562.0,756.0 L554.0,758.0 L540.0,766.0 L526.0,772.0 L516.0,784.0 L506.0,789.0 L490.0,790.0 L476.0,791.0 L470.0,776.0 L466.0,774.0 L464.0,764.0 L454.0,762.0 L440.0,760.0 L426.0,756.0 L418.0,760.0 L410.0,770.0 L408.0,782.0 L402.0,778.0 L402.0,764.0 L398.0,760.0 L382.0,764.0 L366.0,766.0 L354.0,760.0 L344.0,760.0 L340.0,762.0 L332.0,754.0 L320.0,752.0 L314.0,746.0 L302.0,740.0 L298.0,730.0 L286.0,730.0 L280.0,724.0 L266.0,716.0 L256.0,710.0 L252.0,704.0 L238.0,700.0 L230.0,710.0 L218.0,700.0 L206.0,696.0 L190.0,684.0 L180.0,680.0 L176.0,664.0 L170.0,652.0 L170.0,644.0 L176.0,643.0 L182.0,650.0 L189.0,644.0 L186.0,630.0 L178.0,620.0 L175.0,610.0 L176.0,604.0 L182.0,600.0 L180.0,598.0 L165.0,592.0 L162.0,578.0 L161.0,571.0 L146.0,571.0 L134.0,567.0 L126.0,561.0 L118.0,561.0 L115.0,552.0 L110.0,540.0 L98.0,538.0 L82.0,532.0 L82.0,526.0 L95.0,524.0 L93.0,516.0 L89.0,506.0 L88.0,496.0 L73.0,490.0 L66.0,492.0 L64.0,482.0 L59.0,472.0 L66.0,466.0 L68.0,455.0 L76.0,452.0 L85.0,448.0 L88.0,443.0 L93.0,444.0 L105.0,440.0 L109.0,448.0 L122.0,445.0 L129.0,442.0 L131.0,433.0 L137.0,428.0 L155.0,428.0 L164.0,421.0 L176.0,416.0 L190.0,409.0Z M1137.0,830.0 L1148.0,838.0 L1144.0,846.0 L1142.0,860.0 L1138.0,872.0 L1134.0,890.0 L1128.0,898.0 L1122.0,908.0 L1121.0,918.0 L1118.0,912.0 L1114.0,904.0 L1106.0,896.0 L1103.0,886.0 L1105.0,872.0 L1112.0,856.0 L1122.0,840.0 L1126.0,834.0Z M867.0,966.0 L894.0,963.0 L899.0,965.0 L902.0,976.0 L896.0,980.0 L892.0,988.0 L890.0,1000.0 L880.0,1006.0 L872.0,1013.0 L860.0,1010.0 L848.0,1006.0 L847.0,984.0 L860.0,969.0Z" fill="none" stroke="#59626b" stroke-width="1"/>
<g fill="#000"><text x="61.6" y="133" font-family="Liberation Sans, sans-serif" font-size="68">O</text><text x="134.2" y="133" font-family="Liberation Sans, sans-serif" font-size="68">F</text><text x="175.2" y="133" font-family="Liberation Sans, sans-serif" font-size="68">G</text><text x="227.4" y="133" font-family="Liberation Sans, sans-serif" font-size="68">C</text><text x="308.7" y="133" font-family="Liberation Sans, sans-serif" font-size="68">2</text><text x="344.5" y="133" font-family="Liberation Sans, sans-serif" font-size="68">5</text><path d="M297.2,86 L297.2,132.8 L291.59999999999997,132.8 L291.59999999999997,96 Q287.2,100 280.0,102.8 L280.0,97.2 Q287.2,94 293.4,86 Z"/><path d="M405.2,86 L405.2,132.8 L399.59999999999997,132.8 L399.59999999999997,96 Q395.2,100 388.0,102.8 L388.0,97.2 Q395.2,94 401.4,86 Z"/><path d="M441.3,86 L441.3,132.8 L435.7,132.8 L435.7,96 Q431.3,100 424.1,102.8 L424.1,97.2 Q431.3,94 437.5,86 Z"/><rect x="114.8" y="113.8" width="18.2" height="5.3"/></g><rect x="72" y="881" width="42" height="42" fill="#ffffe5"/><rect x="72" y="923" width="42" height="42" fill="#fffaca"/><rect x="72" y="965" width="42" height="42" fill="#fff0ae"/><rect x="72" y="1007" width="42" height="42" fill="#fee391"/><rect x="72" y="1049" width="42" height="42" fill="#fece65"/><rect x="72" y="1091" width="42" height="42" fill="#feb642"/><rect x="72" y="1133" width="42" height="42" fill="#fe9929"/><rect x="72" y="1175" width="42" height="42" fill="#f27e1b"/><rect x="72" y="1217" width="42" height="42" fill="#e1640e"/><rect x="72" y="1259" width="42" height="42" fill="#cc4c02"/><rect x="72" y="1301" width="42" height="42" fill="#aa3c03"/><rect x="72" y="1343" width="42" height="42" fill="#882f05"/><rect x="72" y="1385" width="42" height="42" fill="#662506"/><text x="125" y="915.5" font-family="Liberation Sans, sans-serif" font-size="34.5">0.76% - 4.13%</text><text x="125" y="957.5" font-family="Liberation Sans, sans-serif" font-size="34.5">4.13% - 7.05%</text><text x="125" y="999.5" font-family="Liberation Sans, sans-serif" font-size="34.5">7.05% - 8.87%</text><text x="125" y="1041.5" font-family="Liberation Sans, sans-serif" font-size="34.5">8.87% - 10.09%</text><text x="125" y="1083.5" font-family="Liberation Sans, sans-serif" font-size="34.5">10.09% - 11.34%</text><text x="125" y="1125.5" font-family="Liberation Sans, sans-serif" font-size="34.5">11.34% - 12.58%</text><text x="125" y="1167.5" font-family="Liberation Sans, sans-serif" font-size="34.5">12.58% - 13.79%</text><text x="125" y="1209.5" font-family="Liberation Sans, sans-serif" font-size="34.5">13.79% - 14.94%</text><text x="125" y="1251.5" font-family="Liberation Sans, sans-serif" font-size="34.5">14.94% - 16.14%</text><text x="125" y="1293.5" font-family="Liberation Sans, sans-serif" font-size="34.5">16.14% - 17.47%</text><text x="125" y="1335.5" font-family="Liberation Sans, sans-serif" font-size="34.5">17.47% - 19.25%</text><text x="125" y="1377.5" font-family="Liberation Sans, sans-serif" font-size="34.5">19.25% - 20.95%</text><text x="125" y="1419.5" font-family="Liberation Sans, sans-serif" font-size="34.5">20.95% - 25.93%</text><g stroke="#000" fill="none" stroke-linecap="butt"><path d="M71,830.3 L90,830.3" stroke-width="1.5"/><path d="M80.6,819.5 L80.6,858.5" stroke-width="2.7"/><path d="M79.6,834 Q76,845 70.2,851.8" stroke-width="2.0"/><path d="M82,835 Q86,837 87,841" stroke-width="2.6"/><path d="M92,822.5 L92,858.3" stroke-width="2.7"/><path d="M105.8,822.5 L105.8,858" stroke-width="2.7"/><path d="M92,824.3 L106,824.3" stroke-width="1.5"/><path d="M92,834.5 L106,834.5" stroke-width="1.5"/><path d="M92,843.2 L106,843.2" stroke-width="1.5"/><path d="M92,854.6 L106,854.6" stroke-width="1.5"/><path d="M115.4,826.4 L131.6,826.4" stroke-width="1.5"/><path d="M131,826.4 Q126,845 113.8,855.4" stroke-width="2.2"/><path d="M116.6,830.3 Q125,839 129.6,852.6" stroke-width="2.8"/><path d="M131.6,831.5 L153.4,831.5" stroke-width="1.5"/><path d="M145.4,820.4 L145.4,856 Q145,858 137,854.3" stroke-width="2.7"/><path d="M134.2,836 Q138,840 138,845" stroke-width="2.6"/><path d="M177.2,819.2 L177.2,840" stroke-width="2.7"/><path d="M177.2,829.4 L196,829.4" stroke-width="1.5"/><path d="M166.1,839 L166.1,858.5" stroke-width="2.7"/><path d="M189.8,838.4 L189.8,857.6" stroke-width="2.7"/><path d="M166.1,840.5 L190.5,840.5" stroke-width="1.5"/><path d="M166.1,854.3 L189.8,854.3" stroke-width="1.5"/><path d="M208.4,820.7 L208.4,855.2" stroke-width="2.7"/><path d="M208.4,835.4 L221,835.4" stroke-width="1.5"/><path d="M207.8,855.2 L221,849.2" stroke-width="2.2"/><path d="M224.6,820.4 L224.6,853.4 Q224.8,856.1 228,856.1 L239,856.1 Q239.2,850 238.6,846" stroke-width="2.7"/><path d="M225.8,838.4 L239,827.9" stroke-width="2.2"/></g><g stroke="#000" fill="none"><path d="M1190.2,1391.9 Q1186,1401 1180.6,1409.7" stroke-width="1.6"/><path d="M1187.1,1401.5 L1187.1,1424.4" stroke-width="1.9"/><path d="M1199.7,1391.5 Q1196,1400 1190.2,1406.7" stroke-width="1.6"/><path d="M1195.8,1398 L1212.3,1398" stroke-width="1.3"/><path d="M1199.3,1398 L1199.3,1424.4" stroke-width="1.9"/><path d="M1199.3,1407.1 L1211,1407.1" stroke-width="1.3"/><path d="M1199.3,1415.3 L1212.3,1415.3" stroke-width="1.3"/><path d="M1220.9,1397.6 L1237.4,1397.6" stroke-width="1.3"/><path d="M1230.5,1392.4 L1230.5,1403.2" stroke-width="1.9"/><path d="M1217.5,1403.6 L1248.7,1403.6" stroke-width="1.3"/><path d="M1244.3,1393.7 Q1232,1407 1217.5,1415.3" stroke-width="1.6"/><path d="M1226.6,1408.4 L1226.6,1423.6" stroke-width="1.9"/><path d="M1240.9,1408.4 L1240.9,1423.2" stroke-width="1.9"/><path d="M1226.6,1409.3 L1240.9,1409.3" stroke-width="1.3"/><path d="M1226.6,1414.9 L1240.9,1414.9" stroke-width="1.3"/><path d="M1226.6,1420.5 L1240.9,1420.5" stroke-width="1.3"/><path d="M1330,1393.5 L1333.5,1396.5" stroke-width="1.8"/><path d="M1326.5,1401.5 L1330.5,1405.5" stroke-width="1.8"/><path d="M1328,1415 L1334,1408" stroke-width="1.6"/><path d="M1335.6,1394 L1337,1397" stroke-width="1.5"/><path d="M1344,1394 L1342.5,1397" stroke-width="1.5"/><path d="M1333.5,1399 L1346,1399" stroke-width="1.3"/><path d="M1340,1399 L1340,1414" stroke-width="1.9"/><path d="M1334.5,1405.5 L1346,1405.5" stroke-width="1.3"/><path d="M1340,1414 Q1337,1420 1332,1424" stroke-width="1.5"/><path d="M1336,1408 L1336,1414 L1345,1414" stroke-width="1.4"/><path d="M1349,1395 L1349,1410 Q1348,1420 1342,1424.5" stroke-width="1.7"/><path d="M1357.5,1395 L1357.5,1422" stroke-width="1.9"/><path d="M1349,1395 L1357.5,1395" stroke-width="1.3"/><path d="M1349,1404 L1357.5,1404" stroke-width="1.3"/><path d="M1349,1412 L1357.5,1412" stroke-width="1.3"/><path d="M1366.5,1393.5 L1370,1396.5" stroke-width="1.8"/><path d="M1363,1401.5 L1367,1405.5" stroke-width="1.8"/><path d="M1364.5,1415 L1370.5,1408" stroke-width="1.6"/><path d="M1373,1394.5 L1395,1394.5" stroke-width="1.3"/><path d="M1373,1394.5 L1373,1410 Q1372,1419 1367,1424" stroke-width="1.7"/><path d="M1377.5,1398 L1377.5,1410.5" stroke-width="1.6"/><path d="M1389,1398 L1389,1410.5" stroke-width="1.6"/><path d="M1377.5,1398 L1389,1398" stroke-width="1.3"/><path d="M1377.5,1404 L1389,1404" stroke-width="1.3"/><path d="M1377.5,1410 L1389,1410" stroke-width="1.3"/><path d="M1383,1410 L1383,1423 L1380,1421" stroke-width="1.7"/><path d="M1377,1414 L1373,1420" stroke-width="1.6"/><path d="M1389,1414 L1393,1420" stroke-width="1.6"/><path d="M1399,1395 L1416,1395" stroke-width="1.3"/><path d="M1414.5,1395 L1414.5,1408" stroke-width="1.6"/><path d="M1399,1402 L1416,1402" stroke-width="1.3"/><path d="M1399,1408.5 L1416,1408.5" stroke-width="1.3"/><path d="M1408,1395 Q1405,1408 1399,1418" stroke-width="1.6"/><path d="M1403.5,1412 L1403.5,1424" stroke-width="1.6"/><path d="M1415,1412 L1415,1424" stroke-width="1.6"/><path d="M1403.5,1412 L1415,1412" stroke-width="1.3"/><path d="M1403.5,1423.5 L1415,1423.5" stroke-width="1.3"/><path d="M1419,1394 L1421,1397" stroke-width="1.5"/><path d="M1427,1393 L1425,1397" stroke-width="1.5"/><path d="M1419,1399 L1430,1399" stroke-width="1.3"/><path d="M1418,1406 L1430,1406" stroke-width="1.3"/><path d="M1416,1413 L1431,1413" stroke-width="1.3"/><path d="M1424,1399 L1424,1424.5" stroke-width="1.9"/></g><g fill="#000"><text x="1260" y="1420.5" font-family="Liberation Sans, sans-serif" font-size="34.5">O</text><text x="1305.5" y="1420.5" font-family="Liberation Sans, sans-serif" font-size="34.5">a</text><rect x="1254.5" y="1401.8" width="3.3" height="3.3"/><rect x="1254.5" y="1417.2" width="3.3" height="3.3"/><path d="M1300.6,1395.6 L1300.6,1420.4 L1297.6999999999998,1420.4 L1297.6999999999998,1400.8 Q1295.3999999999999,1402.8 1291.6,1404.3 L1291.6,1401.3999999999999 Q1295.3999999999999,1399.8 1298.6,1395.6 Z"/></g><polyline points="1089.3,1017.3 1100.0,1000.0" fill="none" stroke="#555" stroke-width="1"/><polyline points="862.7,1064.0 870.7,1074.7 874.7,1090.7" fill="none" stroke="#555" stroke-width="1"/><polyline points="1081.3,1068.0 1081.3,1094.7" fill="none" stroke="#555" stroke-width="1"/><polyline points="885.3,1164.0 884.0,1178.7 879.2,1190.7" fill="none" stroke="#555" stroke-width="1"/><polyline points="1079.2,1170.7 1074.7,1186.7 1069.3,1198.7" fill="none" stroke="#555" stroke-width="1"/><polyline points="1017.9,1273.3 1001.3,1294.7" fill="none" stroke="#555" stroke-width="1"/><polyline points="838.1,1296.0 837.3,1309.3 840.0,1324.0" fill="none" stroke="#555" stroke-width="1"/><polyline points="942.7,1381.3 929.3,1386.7 917.3,1390.7" fill="none" stroke="#555" stroke-width="1"/><rect x="910.1" y="1039.4" width="1.5" height="1.5" fill="#666"/><rect x="927.4" y="1043.4" width="1.5" height="1.5" fill="#666"/><rect x="928.7" y="1047.4" width="1.5" height="1.5" fill="#666"/><rect x="914.1" y="1055.4" width="1.5" height="1.5" fill="#666"/><rect x="934.1" y="1055.4" width="1.5" height="1.5" fill="#666"/><rect x="914.1" y="1062.1" width="1.5" height="1.5" fill="#666"/><rect x="923.4" y="1059.4" width="1.5" height="1.5" fill="#666"/><rect x="934.1" y="1066.1" width="1.5" height="1.5" fill="#666"/><rect x="927.4" y="1075.4" width="1.5" height="1.5" fill="#666"/><rect x="965.5" y="1071.4" width="1.5" height="1.5" fill="#666"/><rect x="971.4" y="1067.4" width="1.5" height="1.5" fill="#666"/><rect x="979.4" y="1066.1" width="1.5" height="1.5" fill="#666"/><rect x="984.7" y="1063.4" width="1.5" height="1.5" fill="#666"/><rect x="987.4" y="1067.4" width="1.5" height="1.5" fill="#666"/><rect x="964.7" y="1080.7" width="1.5" height="1.5" fill="#666"/><rect x="979.4" y="1078.1" width="1.5" height="1.5" fill="#666"/><rect x="1028.7" y="1059.4" width="1.5" height="1.5" fill="#666"/><rect x="1051.4" y="1090.1" width="1.5" height="1.5" fill="#666"/><rect x="998.6" y="1120.7" width="1.5" height="1.5" fill="#666"/><rect x="982.1" y="1183.4" width="1.5" height="1.5" fill="#666"/><rect x="1028.2" y="1183.4" width="1.5" height="1.5" fill="#666"/><rect x="984.7" y="1194.1" width="1.5" height="1.5" fill="#666"/><rect x="978.9" y="1200.7" width="1.5" height="1.5" fill="#666"/><rect x="987.4" y="1198.1" width="1.5" height="1.5" fill="#666"/><rect x="969.3" y="1197.3" width="1.5" height="1.5" fill="#666"/><rect x="1040.7" y="1194.1" width="1.5" height="1.5" fill="#666"/><rect x="1051.4" y="1199.9" width="1.5" height="1.5" fill="#666"/><rect x="1007.4" y="1208.7" width="1.5" height="1.5" fill="#666"/><rect x="1024.7" y="1211.4" width="1.5" height="1.5" fill="#666"/><rect x="1030.1" y="1208.7" width="1.5" height="1.5" fill="#666"/><rect x="1042.1" y="1203.4" width="1.5" height="1.5" fill="#666"/><rect x="1040.7" y="1219.4" width="1.5" height="1.5" fill="#666"/><rect x="958.1" y="1215.4" width="1.5" height="1.5" fill="#666"/><rect x="963.4" y="1219.4" width="1.5" height="1.5" fill="#666"/><rect x="974.1" y="1214.1" width="1.5" height="1.5" fill="#666"/><rect x="983.4" y="1212.7" width="1.5" height="1.5" fill="#666"/><rect x="982.6" y="1222.1" width="1.5" height="1.5" fill="#666"/><rect x="982.6" y="1228.2" width="1.5" height="1.5" fill="#666"/><rect x="996.7" y="1216.7" width="1.5" height="1.5" fill="#666"/><rect x="1002.1" y="1223.4" width="1.5" height="1.5" fill="#666"/><rect x="1008.7" y="1228.2" width="1.5" height="1.5" fill="#666"/><rect x="1014.1" y="1219.4" width="1.5" height="1.5" fill="#666"/><rect x="1023.4" y="1227.4" width="1.5" height="1.5" fill="#666"/><rect x="971.4" y="1236.7" width="1.5" height="1.5" fill="#666"/><rect x="999.4" y="1236.7" width="1.5" height="1.5" fill="#666"/><rect x="1011.4" y="1239.4" width="1.5" height="1.5" fill="#666"/><rect x="1022.1" y="1242.1" width="1.5" height="1.5" fill="#666"/><rect x="1028.7" y="1244.7" width="1.5" height="1.5" fill="#666"/><rect x="1018.9" y="1249.5" width="1.5" height="1.5" fill="#666"/><rect x="934.1" y="1234.1" width="1.5" height="1.5" fill="#666"/><rect x="959.4" y="1240.7" width="1.5" height="1.5" fill="#666"/><rect x="959.4" y="1247.4" width="1.5" height="1.5" fill="#666"/><rect x="966.1" y="1250.1" width="1.5" height="1.5" fill="#666"/><rect x="971.9" y="1252.7" width="1.5" height="1.5" fill="#666"/><rect x="982.1" y="1250.1" width="1.5" height="1.5" fill="#666"/><rect x="943.4" y="1262.1" width="1.5" height="1.5" fill="#666"/><rect x="928.7" y="1250.1" width="1.5" height="1.5" fill="#666"/><rect x="935.4" y="1251.4" width="1.5" height="1.5" fill="#666"/><rect x="942.1" y="1248.7" width="1.5" height="1.5" fill="#666"/><rect x="910.1" y="1258.1" width="1.5" height="1.5" fill="#666"/><rect x="915.4" y="1255.4" width="1.5" height="1.5" fill="#666"/><rect x="994.1" y="1262.1" width="1.5" height="1.5" fill="#666"/><rect x="1002.1" y="1259.4" width="1.5" height="1.5" fill="#666"/><rect x="951.4" y="1266.1" width="1.5" height="1.5" fill="#666"/><rect x="922.1" y="1270.1" width="1.5" height="1.5" fill="#666"/><rect x="914.1" y="1275.4" width="1.5" height="1.5" fill="#666"/><rect x="912.7" y="1282.1" width="1.5" height="1.5" fill="#666"/><rect x="888.7" y="1268.7" width="1.5" height="1.5" fill="#666"/><rect x="888.7" y="1276.7" width="1.5" height="1.5" fill="#666"/><rect x="876.7" y="1275.4" width="1.5" height="1.5" fill="#666"/><rect x="942.1" y="1276.7" width="1.5" height="1.5" fill="#666"/><rect x="965.5" y="1272.7" width="1.5" height="1.5" fill="#666"/><rect x="982.1" y="1268.7" width="1.5" height="1.5" fill="#666"/><rect x="986.1" y="1275.4" width="1.5" height="1.5" fill="#666"/><rect x="989.5" y="1286.1" width="1.5" height="1.5" fill="#666"/><rect x="986.1" y="1291.4" width="1.5" height="1.5" fill="#666"/><rect x="958.1" y="1299.4" width="1.5" height="1.5" fill="#666"/><rect x="950.1" y="1315.4" width="1.5" height="1.5" fill="#666"/><rect x="934.1" y="1324.7" width="1.5" height="1.5" fill="#666"/><rect x="932.7" y="1332.7" width="1.5" height="1.5" fill="#666"/><rect x="936.7" y="1339.4" width="1.5" height="1.5" fill="#666"/><rect x="936.7" y="1346.1" width="1.5" height="1.5" fill="#666"/><rect x="943.4" y="1347.4" width="1.5" height="1.5" fill="#666"/><rect x="923.4" y="1376.7" width="1.5" height="1.5" fill="#666"/><rect x="927.4" y="1376.7" width="1.5" height="1.5" fill="#666"/><polygon points="965.3,1282.7 973.3,1274.7 980.0,1273.3 977.3,1281.3 969.3,1284.8" fill="#fece65" stroke="#666" stroke-width="0.8"/><polygon points="865.3,1289.3 872.0,1284.0 876.5,1284.8 868.0,1290.7" fill="#fece65" stroke="#666" stroke-width="0.8"/>
<rect x="31" y="31" width="1438" height="1438" fill="none" stroke="#000" stroke-width="2"/>
</svg></body></html>
